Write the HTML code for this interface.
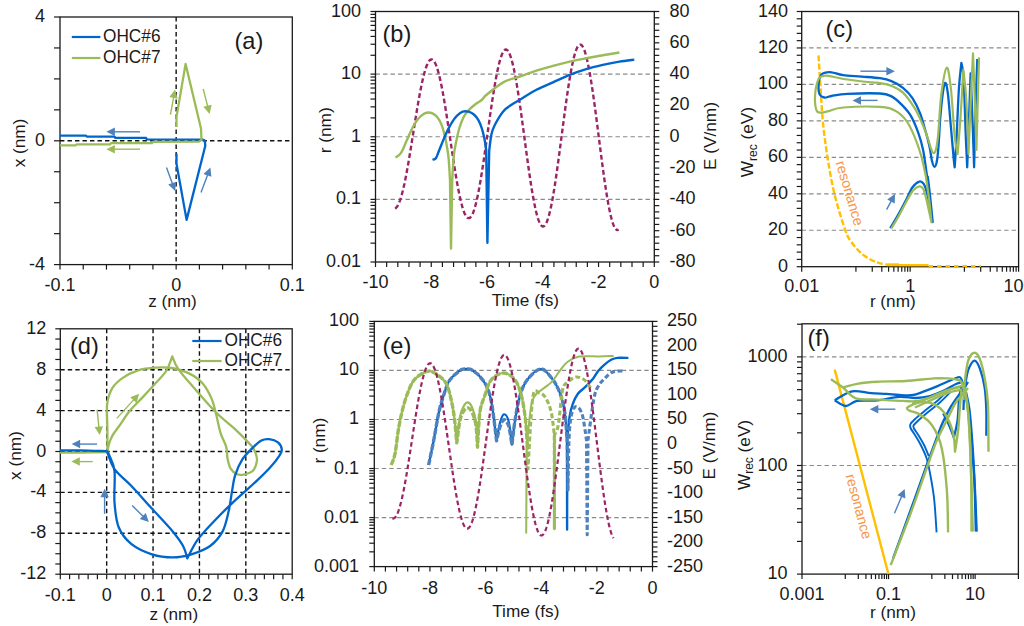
<!DOCTYPE html>
<html><head><meta charset="utf-8"><style>
html,body{margin:0;padding:0;background:#fff;width:1024px;height:626px;overflow:hidden}
svg{display:block;font-family:"Liberation Sans", sans-serif}
</style></head><body>
<svg width="1024" height="626" viewBox="0 0 1024 626">
<rect width="1024" height="626" fill="#fff"/>
<line x1="60" y1="140.8" x2="292.3" y2="140.8" stroke="#111" stroke-width="1.4" stroke-dasharray="4.4 3.1" stroke-linecap="butt"/>
<line x1="176.15" y1="17" x2="176.15" y2="264.6" stroke="#111" stroke-width="1.4" stroke-dasharray="4.4 3.1" stroke-linecap="butt"/>
<line x1="54" y1="264.6" x2="60" y2="264.6" stroke="#1a1a1a" stroke-width="1.2" stroke-linecap="butt"/>
<line x1="54" y1="233.65" x2="60" y2="233.65" stroke="#1a1a1a" stroke-width="1.2" stroke-linecap="butt"/>
<line x1="54" y1="202.7" x2="60" y2="202.7" stroke="#1a1a1a" stroke-width="1.2" stroke-linecap="butt"/>
<line x1="54" y1="171.75" x2="60" y2="171.75" stroke="#1a1a1a" stroke-width="1.2" stroke-linecap="butt"/>
<line x1="54" y1="140.8" x2="60" y2="140.8" stroke="#1a1a1a" stroke-width="1.2" stroke-linecap="butt"/>
<line x1="54" y1="109.85" x2="60" y2="109.85" stroke="#1a1a1a" stroke-width="1.2" stroke-linecap="butt"/>
<line x1="54" y1="78.9" x2="60" y2="78.9" stroke="#1a1a1a" stroke-width="1.2" stroke-linecap="butt"/>
<line x1="54" y1="47.95" x2="60" y2="47.95" stroke="#1a1a1a" stroke-width="1.2" stroke-linecap="butt"/>
<line x1="54" y1="17" x2="60" y2="17" stroke="#1a1a1a" stroke-width="1.2" stroke-linecap="butt"/>
<line x1="60" y1="264.6" x2="60" y2="269.6" stroke="#1a1a1a" stroke-width="1.2" stroke-linecap="butt"/>
<line x1="83.23" y1="264.6" x2="83.23" y2="269.6" stroke="#1a1a1a" stroke-width="1.2" stroke-linecap="butt"/>
<line x1="106.46" y1="264.6" x2="106.46" y2="269.6" stroke="#1a1a1a" stroke-width="1.2" stroke-linecap="butt"/>
<line x1="129.69" y1="264.6" x2="129.69" y2="269.6" stroke="#1a1a1a" stroke-width="1.2" stroke-linecap="butt"/>
<line x1="152.92" y1="264.6" x2="152.92" y2="269.6" stroke="#1a1a1a" stroke-width="1.2" stroke-linecap="butt"/>
<line x1="176.15" y1="264.6" x2="176.15" y2="269.6" stroke="#1a1a1a" stroke-width="1.2" stroke-linecap="butt"/>
<line x1="199.38" y1="264.6" x2="199.38" y2="269.6" stroke="#1a1a1a" stroke-width="1.2" stroke-linecap="butt"/>
<line x1="222.61" y1="264.6" x2="222.61" y2="269.6" stroke="#1a1a1a" stroke-width="1.2" stroke-linecap="butt"/>
<line x1="245.84" y1="264.6" x2="245.84" y2="269.6" stroke="#1a1a1a" stroke-width="1.2" stroke-linecap="butt"/>
<line x1="269.07" y1="264.6" x2="269.07" y2="269.6" stroke="#1a1a1a" stroke-width="1.2" stroke-linecap="butt"/>
<line x1="292.3" y1="264.6" x2="292.3" y2="269.6" stroke="#1a1a1a" stroke-width="1.2" stroke-linecap="butt"/>
<rect x="60" y="17" width="232.3" height="247.6" fill="none" stroke="#1a1a1a" stroke-width="1.3"/>
<text x="45" y="22" font-size="18" text-anchor="end" fill="#1a1a1a">4</text>
<text x="45" y="145.8" font-size="18" text-anchor="end" fill="#1a1a1a">0</text>
<text x="45" y="269.6" font-size="18" text-anchor="end" fill="#1a1a1a">-4</text>
<text x="60" y="291" font-size="18" text-anchor="middle" fill="#1a1a1a">-0.1</text>
<text x="176.15" y="291" font-size="18" text-anchor="middle" fill="#1a1a1a">0</text>
<text x="292.3" y="291" font-size="18" text-anchor="middle" fill="#1a1a1a">0.1</text>
<text x="172.5" y="306.5" font-size="17.2" text-anchor="middle" fill="#1a1a1a">z (nm)</text>
<text x="25" y="143" font-size="17.2" text-anchor="middle" fill="#1a1a1a" transform="rotate(-90 25 143)">x (nm)</text>
<line x1="71.8" y1="37" x2="100.4" y2="37" stroke="#0066cc" stroke-width="2.2" stroke-linecap="butt"/>
<line x1="71.8" y1="58" x2="100.4" y2="58" stroke="#9bbb59" stroke-width="2.2" stroke-linecap="butt"/>
<text x="103" y="42.4" font-size="18" text-anchor="start" fill="#1a1a1a" textLength="57.5" lengthAdjust="spacingAndGlyphs">OHC#6</text>
<text x="103" y="62.8" font-size="18" text-anchor="start" fill="#1a1a1a" textLength="57.5" lengthAdjust="spacingAndGlyphs">OHC#7</text>
<text x="234.5" y="48.5" font-size="23.6" text-anchor="start" fill="#1a1a1a">(a)</text>
<path d="M60,135.6 L86,135.6 L86.8,136.6 L114.5,136.6 L115.3,137.9 L146,137.9 L146.8,139.4 L203,139.7" fill="none" stroke="#0066cc" stroke-width="2.3" stroke-linejoin="round" stroke-linecap="butt"/>
<path d="M176.5,153.7 L176.5,163.8 L186.6,219.9 L205.3,145.8 C205.18,144.93 205.15,141.62 204.6,140.6 C204.05,139.58 202.43,139.85 202,139.7" fill="none" stroke="#0066cc" stroke-width="2.3" stroke-linejoin="round" stroke-linecap="butt"/>
<path d="M176.5,127 L176.5,116.9 L185.6,63.9 L201,128.4 L201.5,140 L199,141.6 L152.8,141.8 L152,143.2 L110.9,143.2 L110.1,144.4 L76.6,144.4 L75.8,145.4 L60,145.4" fill="none" stroke="#9bbb59" stroke-width="2.3" stroke-linejoin="round" stroke-linecap="butt"/>
<line x1="170.4" y1="114.7" x2="173.72" y2="96.87" stroke="#9bbb59" stroke-width="1.4" stroke-linecap="butt"/>
<polygon points="175.1,89.5 177.72,98.64 169.36,97.08" fill="#9bbb59"/>
<line x1="203.2" y1="88.8" x2="207.75" y2="106.73" stroke="#9bbb59" stroke-width="1.4" stroke-linecap="butt"/>
<polygon points="209.6,114 203.39,106.81 211.63,104.72" fill="#9bbb59"/>
<line x1="166.5" y1="167.4" x2="172.54" y2="184.05" stroke="#4f81bd" stroke-width="1.4" stroke-linecap="butt"/>
<polygon points="175.1,191.1 168.21,184.56 176.2,181.66" fill="#4f81bd"/>
<line x1="201" y1="192.6" x2="207.78" y2="174.43" stroke="#4f81bd" stroke-width="1.4" stroke-linecap="butt"/>
<polygon points="210.4,167.4 211.41,176.85 203.45,173.88" fill="#4f81bd"/>
<line x1="140" y1="131.8" x2="113.9" y2="131.8" stroke="#4f81bd" stroke-width="1.4" stroke-linecap="butt"/>
<polygon points="106.4,131.8 114.9,127.55 114.9,136.05" fill="#4f81bd"/>
<line x1="140" y1="149.2" x2="113.9" y2="149.2" stroke="#9bbb59" stroke-width="1.4" stroke-linecap="butt"/>
<polygon points="106.4,149.2 114.9,144.95 114.9,153.45" fill="#9bbb59"/>
<line x1="375.5" y1="74.12" x2="654.3" y2="74.12" stroke="#8a8a8a" stroke-width="1.2" stroke-dasharray="4.4 3.1" stroke-linecap="butt"/>
<line x1="375.5" y1="136.75" x2="654.3" y2="136.75" stroke="#8a8a8a" stroke-width="1.2" stroke-dasharray="4.4 3.1" stroke-linecap="butt"/>
<line x1="375.5" y1="199.38" x2="654.3" y2="199.38" stroke="#8a8a8a" stroke-width="1.2" stroke-dasharray="4.4 3.1" stroke-linecap="butt"/>
<line x1="370.5" y1="262" x2="375.5" y2="262" stroke="#1a1a1a" stroke-width="1.2" stroke-linecap="butt"/>
<line x1="370.5" y1="243.15" x2="375.5" y2="243.15" stroke="#1a1a1a" stroke-width="1.2" stroke-linecap="butt"/>
<line x1="370.5" y1="232.12" x2="375.5" y2="232.12" stroke="#1a1a1a" stroke-width="1.2" stroke-linecap="butt"/>
<line x1="370.5" y1="224.3" x2="375.5" y2="224.3" stroke="#1a1a1a" stroke-width="1.2" stroke-linecap="butt"/>
<line x1="370.5" y1="218.23" x2="375.5" y2="218.23" stroke="#1a1a1a" stroke-width="1.2" stroke-linecap="butt"/>
<line x1="370.5" y1="213.27" x2="375.5" y2="213.27" stroke="#1a1a1a" stroke-width="1.2" stroke-linecap="butt"/>
<line x1="370.5" y1="209.08" x2="375.5" y2="209.08" stroke="#1a1a1a" stroke-width="1.2" stroke-linecap="butt"/>
<line x1="370.5" y1="205.44" x2="375.5" y2="205.44" stroke="#1a1a1a" stroke-width="1.2" stroke-linecap="butt"/>
<line x1="370.5" y1="202.24" x2="375.5" y2="202.24" stroke="#1a1a1a" stroke-width="1.2" stroke-linecap="butt"/>
<line x1="370.5" y1="199.38" x2="375.5" y2="199.38" stroke="#1a1a1a" stroke-width="1.2" stroke-linecap="butt"/>
<line x1="370.5" y1="180.52" x2="375.5" y2="180.52" stroke="#1a1a1a" stroke-width="1.2" stroke-linecap="butt"/>
<line x1="370.5" y1="169.5" x2="375.5" y2="169.5" stroke="#1a1a1a" stroke-width="1.2" stroke-linecap="butt"/>
<line x1="370.5" y1="161.67" x2="375.5" y2="161.67" stroke="#1a1a1a" stroke-width="1.2" stroke-linecap="butt"/>
<line x1="370.5" y1="155.6" x2="375.5" y2="155.6" stroke="#1a1a1a" stroke-width="1.2" stroke-linecap="butt"/>
<line x1="370.5" y1="150.64" x2="375.5" y2="150.64" stroke="#1a1a1a" stroke-width="1.2" stroke-linecap="butt"/>
<line x1="370.5" y1="146.45" x2="375.5" y2="146.45" stroke="#1a1a1a" stroke-width="1.2" stroke-linecap="butt"/>
<line x1="370.5" y1="142.82" x2="375.5" y2="142.82" stroke="#1a1a1a" stroke-width="1.2" stroke-linecap="butt"/>
<line x1="370.5" y1="139.62" x2="375.5" y2="139.62" stroke="#1a1a1a" stroke-width="1.2" stroke-linecap="butt"/>
<line x1="370.5" y1="136.75" x2="375.5" y2="136.75" stroke="#1a1a1a" stroke-width="1.2" stroke-linecap="butt"/>
<line x1="370.5" y1="117.9" x2="375.5" y2="117.9" stroke="#1a1a1a" stroke-width="1.2" stroke-linecap="butt"/>
<line x1="370.5" y1="106.87" x2="375.5" y2="106.87" stroke="#1a1a1a" stroke-width="1.2" stroke-linecap="butt"/>
<line x1="370.5" y1="99.05" x2="375.5" y2="99.05" stroke="#1a1a1a" stroke-width="1.2" stroke-linecap="butt"/>
<line x1="370.5" y1="92.98" x2="375.5" y2="92.98" stroke="#1a1a1a" stroke-width="1.2" stroke-linecap="butt"/>
<line x1="370.5" y1="88.02" x2="375.5" y2="88.02" stroke="#1a1a1a" stroke-width="1.2" stroke-linecap="butt"/>
<line x1="370.5" y1="83.83" x2="375.5" y2="83.83" stroke="#1a1a1a" stroke-width="1.2" stroke-linecap="butt"/>
<line x1="370.5" y1="80.19" x2="375.5" y2="80.19" stroke="#1a1a1a" stroke-width="1.2" stroke-linecap="butt"/>
<line x1="370.5" y1="76.99" x2="375.5" y2="76.99" stroke="#1a1a1a" stroke-width="1.2" stroke-linecap="butt"/>
<line x1="370.5" y1="74.12" x2="375.5" y2="74.12" stroke="#1a1a1a" stroke-width="1.2" stroke-linecap="butt"/>
<line x1="370.5" y1="55.27" x2="375.5" y2="55.27" stroke="#1a1a1a" stroke-width="1.2" stroke-linecap="butt"/>
<line x1="370.5" y1="44.25" x2="375.5" y2="44.25" stroke="#1a1a1a" stroke-width="1.2" stroke-linecap="butt"/>
<line x1="370.5" y1="36.42" x2="375.5" y2="36.42" stroke="#1a1a1a" stroke-width="1.2" stroke-linecap="butt"/>
<line x1="370.5" y1="30.35" x2="375.5" y2="30.35" stroke="#1a1a1a" stroke-width="1.2" stroke-linecap="butt"/>
<line x1="370.5" y1="25.39" x2="375.5" y2="25.39" stroke="#1a1a1a" stroke-width="1.2" stroke-linecap="butt"/>
<line x1="370.5" y1="21.2" x2="375.5" y2="21.2" stroke="#1a1a1a" stroke-width="1.2" stroke-linecap="butt"/>
<line x1="370.5" y1="17.57" x2="375.5" y2="17.57" stroke="#1a1a1a" stroke-width="1.2" stroke-linecap="butt"/>
<line x1="370.5" y1="14.37" x2="375.5" y2="14.37" stroke="#1a1a1a" stroke-width="1.2" stroke-linecap="butt"/>
<line x1="370.5" y1="11.5" x2="375.5" y2="11.5" stroke="#1a1a1a" stroke-width="1.2" stroke-linecap="butt"/>
<line x1="654.3" y1="262" x2="659.3" y2="262" stroke="#1a1a1a" stroke-width="1.2" stroke-linecap="butt"/>
<line x1="654.3" y1="255.74" x2="659.3" y2="255.74" stroke="#1a1a1a" stroke-width="1.2" stroke-linecap="butt"/>
<line x1="654.3" y1="249.48" x2="659.3" y2="249.48" stroke="#1a1a1a" stroke-width="1.2" stroke-linecap="butt"/>
<line x1="654.3" y1="243.21" x2="659.3" y2="243.21" stroke="#1a1a1a" stroke-width="1.2" stroke-linecap="butt"/>
<line x1="654.3" y1="236.95" x2="659.3" y2="236.95" stroke="#1a1a1a" stroke-width="1.2" stroke-linecap="butt"/>
<line x1="654.3" y1="230.69" x2="659.3" y2="230.69" stroke="#1a1a1a" stroke-width="1.2" stroke-linecap="butt"/>
<line x1="654.3" y1="224.43" x2="659.3" y2="224.43" stroke="#1a1a1a" stroke-width="1.2" stroke-linecap="butt"/>
<line x1="654.3" y1="218.16" x2="659.3" y2="218.16" stroke="#1a1a1a" stroke-width="1.2" stroke-linecap="butt"/>
<line x1="654.3" y1="211.9" x2="659.3" y2="211.9" stroke="#1a1a1a" stroke-width="1.2" stroke-linecap="butt"/>
<line x1="654.3" y1="205.64" x2="659.3" y2="205.64" stroke="#1a1a1a" stroke-width="1.2" stroke-linecap="butt"/>
<line x1="654.3" y1="199.38" x2="659.3" y2="199.38" stroke="#1a1a1a" stroke-width="1.2" stroke-linecap="butt"/>
<line x1="654.3" y1="193.11" x2="659.3" y2="193.11" stroke="#1a1a1a" stroke-width="1.2" stroke-linecap="butt"/>
<line x1="654.3" y1="186.85" x2="659.3" y2="186.85" stroke="#1a1a1a" stroke-width="1.2" stroke-linecap="butt"/>
<line x1="654.3" y1="180.59" x2="659.3" y2="180.59" stroke="#1a1a1a" stroke-width="1.2" stroke-linecap="butt"/>
<line x1="654.3" y1="174.32" x2="659.3" y2="174.32" stroke="#1a1a1a" stroke-width="1.2" stroke-linecap="butt"/>
<line x1="654.3" y1="168.06" x2="659.3" y2="168.06" stroke="#1a1a1a" stroke-width="1.2" stroke-linecap="butt"/>
<line x1="654.3" y1="161.8" x2="659.3" y2="161.8" stroke="#1a1a1a" stroke-width="1.2" stroke-linecap="butt"/>
<line x1="654.3" y1="155.54" x2="659.3" y2="155.54" stroke="#1a1a1a" stroke-width="1.2" stroke-linecap="butt"/>
<line x1="654.3" y1="149.28" x2="659.3" y2="149.28" stroke="#1a1a1a" stroke-width="1.2" stroke-linecap="butt"/>
<line x1="654.3" y1="143.01" x2="659.3" y2="143.01" stroke="#1a1a1a" stroke-width="1.2" stroke-linecap="butt"/>
<line x1="654.3" y1="136.75" x2="659.3" y2="136.75" stroke="#1a1a1a" stroke-width="1.2" stroke-linecap="butt"/>
<line x1="654.3" y1="130.49" x2="659.3" y2="130.49" stroke="#1a1a1a" stroke-width="1.2" stroke-linecap="butt"/>
<line x1="654.3" y1="124.22" x2="659.3" y2="124.22" stroke="#1a1a1a" stroke-width="1.2" stroke-linecap="butt"/>
<line x1="654.3" y1="117.96" x2="659.3" y2="117.96" stroke="#1a1a1a" stroke-width="1.2" stroke-linecap="butt"/>
<line x1="654.3" y1="111.7" x2="659.3" y2="111.7" stroke="#1a1a1a" stroke-width="1.2" stroke-linecap="butt"/>
<line x1="654.3" y1="105.44" x2="659.3" y2="105.44" stroke="#1a1a1a" stroke-width="1.2" stroke-linecap="butt"/>
<line x1="654.3" y1="99.18" x2="659.3" y2="99.18" stroke="#1a1a1a" stroke-width="1.2" stroke-linecap="butt"/>
<line x1="654.3" y1="92.91" x2="659.3" y2="92.91" stroke="#1a1a1a" stroke-width="1.2" stroke-linecap="butt"/>
<line x1="654.3" y1="86.65" x2="659.3" y2="86.65" stroke="#1a1a1a" stroke-width="1.2" stroke-linecap="butt"/>
<line x1="654.3" y1="80.39" x2="659.3" y2="80.39" stroke="#1a1a1a" stroke-width="1.2" stroke-linecap="butt"/>
<line x1="654.3" y1="74.12" x2="659.3" y2="74.12" stroke="#1a1a1a" stroke-width="1.2" stroke-linecap="butt"/>
<line x1="654.3" y1="67.86" x2="659.3" y2="67.86" stroke="#1a1a1a" stroke-width="1.2" stroke-linecap="butt"/>
<line x1="654.3" y1="61.6" x2="659.3" y2="61.6" stroke="#1a1a1a" stroke-width="1.2" stroke-linecap="butt"/>
<line x1="654.3" y1="55.34" x2="659.3" y2="55.34" stroke="#1a1a1a" stroke-width="1.2" stroke-linecap="butt"/>
<line x1="654.3" y1="49.08" x2="659.3" y2="49.08" stroke="#1a1a1a" stroke-width="1.2" stroke-linecap="butt"/>
<line x1="654.3" y1="42.81" x2="659.3" y2="42.81" stroke="#1a1a1a" stroke-width="1.2" stroke-linecap="butt"/>
<line x1="654.3" y1="36.55" x2="659.3" y2="36.55" stroke="#1a1a1a" stroke-width="1.2" stroke-linecap="butt"/>
<line x1="654.3" y1="30.29" x2="659.3" y2="30.29" stroke="#1a1a1a" stroke-width="1.2" stroke-linecap="butt"/>
<line x1="654.3" y1="24.02" x2="659.3" y2="24.02" stroke="#1a1a1a" stroke-width="1.2" stroke-linecap="butt"/>
<line x1="654.3" y1="17.76" x2="659.3" y2="17.76" stroke="#1a1a1a" stroke-width="1.2" stroke-linecap="butt"/>
<line x1="654.3" y1="11.5" x2="659.3" y2="11.5" stroke="#1a1a1a" stroke-width="1.2" stroke-linecap="butt"/>
<line x1="375.5" y1="262" x2="375.5" y2="267" stroke="#1a1a1a" stroke-width="1.2" stroke-linecap="butt"/>
<line x1="386.65" y1="262" x2="386.65" y2="267" stroke="#1a1a1a" stroke-width="1.2" stroke-linecap="butt"/>
<line x1="397.8" y1="262" x2="397.8" y2="267" stroke="#1a1a1a" stroke-width="1.2" stroke-linecap="butt"/>
<line x1="408.96" y1="262" x2="408.96" y2="267" stroke="#1a1a1a" stroke-width="1.2" stroke-linecap="butt"/>
<line x1="420.11" y1="262" x2="420.11" y2="267" stroke="#1a1a1a" stroke-width="1.2" stroke-linecap="butt"/>
<line x1="431.26" y1="262" x2="431.26" y2="267" stroke="#1a1a1a" stroke-width="1.2" stroke-linecap="butt"/>
<line x1="442.41" y1="262" x2="442.41" y2="267" stroke="#1a1a1a" stroke-width="1.2" stroke-linecap="butt"/>
<line x1="453.56" y1="262" x2="453.56" y2="267" stroke="#1a1a1a" stroke-width="1.2" stroke-linecap="butt"/>
<line x1="464.72" y1="262" x2="464.72" y2="267" stroke="#1a1a1a" stroke-width="1.2" stroke-linecap="butt"/>
<line x1="475.87" y1="262" x2="475.87" y2="267" stroke="#1a1a1a" stroke-width="1.2" stroke-linecap="butt"/>
<line x1="487.02" y1="262" x2="487.02" y2="267" stroke="#1a1a1a" stroke-width="1.2" stroke-linecap="butt"/>
<line x1="498.17" y1="262" x2="498.17" y2="267" stroke="#1a1a1a" stroke-width="1.2" stroke-linecap="butt"/>
<line x1="509.32" y1="262" x2="509.32" y2="267" stroke="#1a1a1a" stroke-width="1.2" stroke-linecap="butt"/>
<line x1="520.48" y1="262" x2="520.48" y2="267" stroke="#1a1a1a" stroke-width="1.2" stroke-linecap="butt"/>
<line x1="531.63" y1="262" x2="531.63" y2="267" stroke="#1a1a1a" stroke-width="1.2" stroke-linecap="butt"/>
<line x1="542.78" y1="262" x2="542.78" y2="267" stroke="#1a1a1a" stroke-width="1.2" stroke-linecap="butt"/>
<line x1="553.93" y1="262" x2="553.93" y2="267" stroke="#1a1a1a" stroke-width="1.2" stroke-linecap="butt"/>
<line x1="565.08" y1="262" x2="565.08" y2="267" stroke="#1a1a1a" stroke-width="1.2" stroke-linecap="butt"/>
<line x1="576.24" y1="262" x2="576.24" y2="267" stroke="#1a1a1a" stroke-width="1.2" stroke-linecap="butt"/>
<line x1="587.39" y1="262" x2="587.39" y2="267" stroke="#1a1a1a" stroke-width="1.2" stroke-linecap="butt"/>
<line x1="598.54" y1="262" x2="598.54" y2="267" stroke="#1a1a1a" stroke-width="1.2" stroke-linecap="butt"/>
<line x1="609.69" y1="262" x2="609.69" y2="267" stroke="#1a1a1a" stroke-width="1.2" stroke-linecap="butt"/>
<line x1="620.84" y1="262" x2="620.84" y2="267" stroke="#1a1a1a" stroke-width="1.2" stroke-linecap="butt"/>
<line x1="632" y1="262" x2="632" y2="267" stroke="#1a1a1a" stroke-width="1.2" stroke-linecap="butt"/>
<line x1="643.15" y1="262" x2="643.15" y2="267" stroke="#1a1a1a" stroke-width="1.2" stroke-linecap="butt"/>
<line x1="654.3" y1="262" x2="654.3" y2="267" stroke="#1a1a1a" stroke-width="1.2" stroke-linecap="butt"/>
<rect x="375.5" y="11.5" width="278.8" height="250.5" fill="none" stroke="#1a1a1a" stroke-width="1.3"/>
<text x="361" y="16.5" font-size="18" text-anchor="end" fill="#1a1a1a">100</text>
<text x="361" y="79.12" font-size="18" text-anchor="end" fill="#1a1a1a">10</text>
<text x="361" y="141.75" font-size="18" text-anchor="end" fill="#1a1a1a">1</text>
<text x="361" y="204.38" font-size="18" text-anchor="end" fill="#1a1a1a">0.1</text>
<text x="361" y="267" font-size="18" text-anchor="end" fill="#1a1a1a">0.01</text>
<text x="669.5" y="267" font-size="18" text-anchor="start" fill="#1a1a1a">-80</text>
<text x="669.5" y="235.69" font-size="18" text-anchor="start" fill="#1a1a1a">-60</text>
<text x="669.5" y="204.38" font-size="18" text-anchor="start" fill="#1a1a1a">-40</text>
<text x="669.5" y="173.06" font-size="18" text-anchor="start" fill="#1a1a1a">-20</text>
<text x="669.5" y="141.75" font-size="18" text-anchor="start" fill="#1a1a1a">0</text>
<text x="669.5" y="110.44" font-size="18" text-anchor="start" fill="#1a1a1a">20</text>
<text x="669.5" y="79.12" font-size="18" text-anchor="start" fill="#1a1a1a">40</text>
<text x="669.5" y="47.81" font-size="18" text-anchor="start" fill="#1a1a1a">60</text>
<text x="669.5" y="16.5" font-size="18" text-anchor="start" fill="#1a1a1a">80</text>
<text x="375.5" y="287.5" font-size="18" text-anchor="middle" fill="#1a1a1a">-10</text>
<text x="431.26" y="287.5" font-size="18" text-anchor="middle" fill="#1a1a1a">-8</text>
<text x="487.02" y="287.5" font-size="18" text-anchor="middle" fill="#1a1a1a">-6</text>
<text x="542.78" y="287.5" font-size="18" text-anchor="middle" fill="#1a1a1a">-4</text>
<text x="598.54" y="287.5" font-size="18" text-anchor="middle" fill="#1a1a1a">-2</text>
<text x="654.3" y="287.5" font-size="18" text-anchor="middle" fill="#1a1a1a">0</text>
<text x="525.4" y="306.3" font-size="17.2" text-anchor="middle" fill="#1a1a1a">Time (fs)</text>
<text x="331" y="130.3" font-size="17.2" text-anchor="middle" fill="#1a1a1a" transform="rotate(-90 331 130.3)">r (nm)</text>
<text x="715.5" y="136" font-size="17.2" text-anchor="middle" fill="#1a1a1a" transform="rotate(-90 715.5 136)">E (V/nm)</text>
<text x="382.5" y="41.5" font-size="23.6" text-anchor="start" fill="#1a1a1a">(b)</text>
<path d="M395.02,208.52 L395.58,208.21 L396.14,207.77 L396.7,207.17 L397.26,206.41 L397.82,205.49 L398.38,204.42 L398.94,203.19 L399.5,201.82 L400.06,200.29 L400.62,198.61 L401.18,196.8 L401.74,194.84 L402.3,192.75 L402.86,190.53 L403.42,188.19 L403.98,185.72 L404.54,183.14 L405.1,180.45 L405.66,177.65 L406.22,174.76 L406.78,171.78 L407.34,168.71 L407.91,165.56 L408.47,162.34 L409.03,159.05 L409.59,155.71 L410.15,152.32 L410.71,148.88 L411.27,145.41 L411.83,141.91 L412.39,138.4 L412.95,134.87 L413.51,131.34 L414.07,127.81 L414.63,124.3 L415.19,120.8 L415.75,117.33 L416.31,113.9 L416.87,110.51 L417.43,107.18 L417.99,103.9 L418.55,100.69 L419.11,97.55 L419.67,94.5 L420.23,91.53 L420.79,88.66 L421.35,85.88 L421.91,83.22 L422.48,80.67 L423.04,78.24 L423.6,75.94 L424.16,73.77 L424.72,71.73 L425.28,69.84 L425.84,68.09 L426.4,66.49 L426.96,65.05 L427.52,63.76 L428.08,62.63 L428.64,61.67 L429.2,60.87 L429.76,60.25 L430.32,59.79 L430.88,59.5 L431.44,59.4 L432,59.48 L432.56,59.73 L433.12,60.16 L433.68,60.76 L434.24,61.53 L434.8,62.47 L435.36,63.58 L435.92,64.86 L436.49,66.29 L437.05,67.89 L437.61,69.65 L438.17,71.55 L438.73,73.61 L439.29,75.81 L439.85,78.15 L440.41,80.63 L440.97,83.23 L441.53,85.96 L442.09,88.81 L442.65,91.77 L443.21,94.83 L443.77,98 L444.33,101.25 L444.89,104.59 L445.45,108.01 L446.01,111.49 L446.57,115.04 L447.13,118.64 L447.69,122.29 L448.25,125.98 L448.81,129.7 L449.37,133.43 L449.93,137.18 L450.5,140.94 L451.06,144.69 L451.62,148.43 L452.18,152.15 L452.74,155.84 L453.3,159.5 L453.86,163.11 L454.42,166.66 L454.98,170.15 L455.54,173.58 L456.1,176.93 L456.66,180.19 L457.22,183.36 L457.78,186.43 L458.34,189.39 L458.9,192.24 L459.46,194.97 L460.02,197.57 L460.58,200.05 L461.14,202.38 L461.7,204.57 L462.26,206.61 L462.82,208.5 L463.38,210.23 L463.94,211.8 L464.5,213.2 L465.07,214.43 L465.63,215.49 L466.19,216.38 L466.75,217.09 L467.31,217.62 L467.87,217.97 L468.43,218.14 L468.99,218.15 L469.55,217.98 L470.11,217.63 L470.67,217.1 L471.23,216.38 L471.79,215.49 L472.35,214.42 L472.91,213.17 L473.47,211.75 L474.03,210.15 L474.59,208.39 L475.15,206.46 L475.71,204.38 L476.27,202.13 L476.83,199.74 L477.39,197.2 L477.95,194.52 L478.51,191.7 L479.08,188.76 L479.64,185.69 L480.2,182.5 L480.76,179.21 L481.32,175.81 L481.88,172.32 L482.44,168.74 L483,165.08 L483.56,161.35 L484.12,157.56 L484.68,153.72 L485.24,149.82 L485.8,145.89 L486.36,141.93 L486.92,137.95 L487.48,133.96 L488.04,129.97 L488.6,125.98 L489.16,122.01 L489.72,118.07 L490.28,114.16 L490.84,110.29 L491.4,106.47 L491.96,102.71 L492.52,99.02 L493.09,95.41 L493.65,91.88 L494.21,88.44 L494.77,85.11 L495.33,81.89 L495.89,78.78 L496.45,75.79 L497.01,72.94 L497.57,70.22 L498.13,67.65 L498.69,65.22 L499.25,62.95 L499.81,60.84 L500.37,58.9 L500.93,57.13 L501.49,55.53 L502.05,54.11 L502.61,52.88 L503.17,51.83 L503.73,50.96 L504.29,50.29 L504.85,49.81 L505.41,49.55 L505.97,49.51 L506.53,49.67 L507.09,50.02 L507.66,50.57 L508.22,51.3 L508.78,52.23 L509.34,53.36 L509.9,54.66 L510.46,56.16 L511.02,57.83 L511.58,59.68 L512.14,61.71 L512.7,63.91 L513.26,66.27 L513.82,68.79 L514.38,71.47 L514.94,74.29 L515.5,77.26 L516.06,80.36 L516.62,83.59 L517.18,86.94 L517.74,90.41 L518.3,93.98 L518.86,97.65 L519.42,101.42 L519.98,105.26 L520.54,109.18 L521.1,113.16 L521.67,117.2 L522.23,121.29 L522.79,125.42 L523.35,129.57 L523.91,133.74 L524.47,137.93 L525.03,142.11 L525.59,146.29 L526.15,150.45 L526.71,154.58 L527.27,158.67 L527.83,162.72 L528.39,166.72 L528.95,170.65 L529.51,174.51 L530.07,178.28 L530.63,181.97 L531.19,185.56 L531.75,189.04 L532.31,192.41 L532.87,195.66 L533.43,198.78 L533.99,201.76 L534.55,204.6 L535.11,207.29 L535.68,209.82 L536.24,212.19 L536.8,214.4 L537.36,216.43 L537.92,218.29 L538.48,219.96 L539.04,221.45 L539.6,222.75 L540.16,223.87 L540.72,224.78 L541.28,225.5 L541.84,226.03 L542.4,226.35 L542.96,226.47 L543.52,226.39 L544.08,226.12 L544.64,225.64 L545.2,224.96 L545.76,224.08 L546.32,223.01 L546.88,221.74 L547.44,220.29 L548,218.64 L548.56,216.81 L549.12,214.8 L549.69,212.61 L550.25,210.25 L550.81,207.73 L551.37,205.04 L551.93,202.2 L552.49,199.21 L553.05,196.08 L553.61,192.81 L554.17,189.41 L554.73,185.9 L555.29,182.27 L555.85,178.53 L556.41,174.7 L556.97,170.78 L557.53,166.78 L558.09,162.71 L558.65,158.58 L559.21,154.4 L559.77,150.17 L560.33,145.91 L560.89,141.63 L561.45,137.33 L562.01,133.03 L562.57,128.73 L563.13,124.45 L563.69,120.19 L564.26,115.96 L564.82,111.78 L565.38,107.65 L565.94,103.58 L566.5,99.58 L567.06,95.67 L567.62,91.84 L568.18,88.11 L568.74,84.48 L569.3,80.97 L569.86,77.58 L570.42,74.32 L570.98,71.2 L571.54,68.22 L572.1,65.39 L572.66,62.72 L573.22,60.21 L573.78,57.87 L574.34,55.71 L574.9,53.73 L575.46,51.93 L576.02,50.32 L576.58,48.9 L577.14,47.68 L577.7,46.65 L578.27,45.83 L578.83,45.21 L579.39,44.79 L579.95,44.58 L580.51,44.58 L581.07,44.8 L581.63,45.23 L582.19,45.86 L582.75,46.7 L583.31,47.74 L583.87,48.97 L584.43,50.41 L584.99,52.04 L585.55,53.85 L586.11,55.86 L586.67,58.05 L587.23,60.41 L587.79,62.94 L588.35,65.64 L588.91,68.51 L589.47,71.52 L590.03,74.68 L590.59,77.98 L591.15,81.42 L591.71,84.98 L592.28,88.65 L592.84,92.44 L593.4,96.32 L593.96,100.3 L594.52,104.36 L595.08,108.5 L595.64,112.69 L596.2,116.95 L596.76,121.25 L597.32,125.58 L597.88,129.95 L598.44,134.33 L599,138.71 L599.56,143.1 L600.12,147.47 L600.68,151.81 L601.24,156.13 L601.8,160.4 L602.36,164.63 L602.92,168.79 L603.48,172.88 L604.04,176.89 L604.6,180.82 L605.16,184.64 L605.72,188.36 L606.28,191.97 L606.85,195.45 L607.41,198.81 L607.97,202.02 L608.53,205.1 L609.09,208.02 L609.65,210.78 L610.21,213.37 L610.77,215.8 L611.33,218.05 L611.89,220.12 L612.45,222 L613.01,223.69 L613.57,225.19 L614.13,226.49 L614.69,227.6 L615.25,228.49 L615.81,229.19 L616.37,229.67 L616.93,229.95 L617.49,230.02 L618.05,229.89 L618.61,229.54" fill="none" stroke="#9b2464" stroke-width="2.4" stroke-linejoin="round" stroke-linecap="butt" stroke-dasharray="4.8 2.8"/>
<path d="M395.6,157.6 C396.53,156.77 399.33,155.48 401.2,152.6 C403.07,149.72 404.93,144.4 406.8,140.3 C408.67,136.2 410.53,131.55 412.4,128 C414.27,124.45 416.13,121.33 418,119 C419.87,116.67 421.93,115.08 423.6,114 C425.27,112.92 426.52,112.6 428,112.5 C429.48,112.4 431,112.68 432.5,113.4 C434,114.12 435.5,114.93 437,116.8 C438.5,118.67 440.2,121.43 441.5,124.6 C442.8,127.77 443.88,132.07 444.8,135.8 C445.72,139.53 446.35,143.08 447,147 C447.65,150.92 448.2,153.8 448.7,159.3 C449.2,164.8 449.78,176.55 450,180 L451,248.5 L452.2,180 C452.47,175.98 453.17,162.15 453.8,155.9 C454.43,149.65 455.07,147.15 456,142.5 C456.93,137.85 458.1,132.28 459.4,128 C460.7,123.72 462.32,119.7 463.8,116.8 C465.28,113.9 466.43,112.65 468.3,110.6 C470.17,108.55 472.77,106.27 475,104.5 C477.23,102.73 479.77,101.62 481.7,100 C483.63,98.38 483.02,97.73 486.6,94.8 C490.18,91.87 497.67,85.45 503.2,82.4 C508.73,79.35 514.27,78.45 519.8,76.5 C525.33,74.55 530.87,72.48 536.4,70.7 C541.93,68.92 547.47,67.32 553,65.8 C558.53,64.28 564.07,62.85 569.6,61.6 C575.13,60.35 580.67,59.35 586.2,58.3 C591.73,57.25 597.27,56.27 602.8,55.3 C608.33,54.33 616.63,52.97 619.4,52.5" fill="none" stroke="#9bbb59" stroke-width="2.4" stroke-linejoin="round" stroke-linecap="butt"/>
<path d="M432.5,159.8 C433.07,159.53 434.78,159.78 435.9,158.2 C437.02,156.62 437.9,153.48 439.2,150.3 C440.5,147.12 442.2,142.63 443.7,139.1 C445.2,135.57 446.72,132.07 448.2,129.1 C449.68,126.13 451.12,123.53 452.6,121.3 C454.08,119.07 455.42,117.3 457.1,115.7 C458.78,114.1 460.83,112.37 462.7,111.7 C464.57,111.03 466.43,111.23 468.3,111.7 C470.17,112.17 472.22,113.1 473.9,114.5 C475.58,115.9 477.1,117.85 478.4,120.1 C479.7,122.35 480.68,124.83 481.7,128 C482.72,131.17 483.75,135.38 484.5,139.1 C485.25,142.82 485.92,148.43 486.2,150.3 L487.4,242.8 L489.2,150.6 C489.58,147.83 490.55,138.32 491.5,134 C492.45,129.68 492.95,128.47 494.9,124.7 C496.85,120.93 500.43,114.72 503.2,111.4 C505.97,108.08 508.73,106.73 511.5,104.8 C514.27,102.87 515.65,102.3 519.8,99.8 C523.95,97.3 530.87,92.7 536.4,89.8 C541.93,86.9 547.47,84.88 553,82.4 C558.53,79.92 564.07,77.12 569.6,74.9 C575.13,72.68 580.67,70.77 586.2,69.1 C591.73,67.43 597.27,66.15 602.8,64.9 C608.33,63.65 614.15,62.48 619.4,61.6 C624.65,60.72 631.82,59.93 634.3,59.6" fill="none" stroke="#0066cc" stroke-width="2.4" stroke-linejoin="round" stroke-linecap="butt"/>
<line x1="801.7" y1="230.24" x2="1018.6" y2="230.24" stroke="#8a8a8a" stroke-width="1.2" stroke-dasharray="4.4 3.1" stroke-linecap="butt"/>
<line x1="801.7" y1="193.79" x2="1018.6" y2="193.79" stroke="#8a8a8a" stroke-width="1.2" stroke-dasharray="4.4 3.1" stroke-linecap="butt"/>
<line x1="801.7" y1="157.33" x2="1018.6" y2="157.33" stroke="#8a8a8a" stroke-width="1.2" stroke-dasharray="4.4 3.1" stroke-linecap="butt"/>
<line x1="801.7" y1="120.87" x2="1018.6" y2="120.87" stroke="#8a8a8a" stroke-width="1.2" stroke-dasharray="4.4 3.1" stroke-linecap="butt"/>
<line x1="801.7" y1="84.41" x2="1018.6" y2="84.41" stroke="#8a8a8a" stroke-width="1.2" stroke-dasharray="4.4 3.1" stroke-linecap="butt"/>
<line x1="801.7" y1="47.96" x2="1018.6" y2="47.96" stroke="#8a8a8a" stroke-width="1.2" stroke-dasharray="4.4 3.1" stroke-linecap="butt"/>
<line x1="796.7" y1="266.7" x2="801.7" y2="266.7" stroke="#1a1a1a" stroke-width="1.2" stroke-linecap="butt"/>
<line x1="796.7" y1="259.41" x2="801.7" y2="259.41" stroke="#1a1a1a" stroke-width="1.2" stroke-linecap="butt"/>
<line x1="796.7" y1="252.12" x2="801.7" y2="252.12" stroke="#1a1a1a" stroke-width="1.2" stroke-linecap="butt"/>
<line x1="796.7" y1="244.83" x2="801.7" y2="244.83" stroke="#1a1a1a" stroke-width="1.2" stroke-linecap="butt"/>
<line x1="796.7" y1="237.53" x2="801.7" y2="237.53" stroke="#1a1a1a" stroke-width="1.2" stroke-linecap="butt"/>
<line x1="796.7" y1="230.24" x2="801.7" y2="230.24" stroke="#1a1a1a" stroke-width="1.2" stroke-linecap="butt"/>
<line x1="796.7" y1="222.95" x2="801.7" y2="222.95" stroke="#1a1a1a" stroke-width="1.2" stroke-linecap="butt"/>
<line x1="796.7" y1="215.66" x2="801.7" y2="215.66" stroke="#1a1a1a" stroke-width="1.2" stroke-linecap="butt"/>
<line x1="796.7" y1="208.37" x2="801.7" y2="208.37" stroke="#1a1a1a" stroke-width="1.2" stroke-linecap="butt"/>
<line x1="796.7" y1="201.08" x2="801.7" y2="201.08" stroke="#1a1a1a" stroke-width="1.2" stroke-linecap="butt"/>
<line x1="796.7" y1="193.79" x2="801.7" y2="193.79" stroke="#1a1a1a" stroke-width="1.2" stroke-linecap="butt"/>
<line x1="796.7" y1="186.49" x2="801.7" y2="186.49" stroke="#1a1a1a" stroke-width="1.2" stroke-linecap="butt"/>
<line x1="796.7" y1="179.2" x2="801.7" y2="179.2" stroke="#1a1a1a" stroke-width="1.2" stroke-linecap="butt"/>
<line x1="796.7" y1="171.91" x2="801.7" y2="171.91" stroke="#1a1a1a" stroke-width="1.2" stroke-linecap="butt"/>
<line x1="796.7" y1="164.62" x2="801.7" y2="164.62" stroke="#1a1a1a" stroke-width="1.2" stroke-linecap="butt"/>
<line x1="796.7" y1="157.33" x2="801.7" y2="157.33" stroke="#1a1a1a" stroke-width="1.2" stroke-linecap="butt"/>
<line x1="796.7" y1="150.04" x2="801.7" y2="150.04" stroke="#1a1a1a" stroke-width="1.2" stroke-linecap="butt"/>
<line x1="796.7" y1="142.75" x2="801.7" y2="142.75" stroke="#1a1a1a" stroke-width="1.2" stroke-linecap="butt"/>
<line x1="796.7" y1="135.45" x2="801.7" y2="135.45" stroke="#1a1a1a" stroke-width="1.2" stroke-linecap="butt"/>
<line x1="796.7" y1="128.16" x2="801.7" y2="128.16" stroke="#1a1a1a" stroke-width="1.2" stroke-linecap="butt"/>
<line x1="796.7" y1="120.87" x2="801.7" y2="120.87" stroke="#1a1a1a" stroke-width="1.2" stroke-linecap="butt"/>
<line x1="796.7" y1="113.58" x2="801.7" y2="113.58" stroke="#1a1a1a" stroke-width="1.2" stroke-linecap="butt"/>
<line x1="796.7" y1="106.29" x2="801.7" y2="106.29" stroke="#1a1a1a" stroke-width="1.2" stroke-linecap="butt"/>
<line x1="796.7" y1="99" x2="801.7" y2="99" stroke="#1a1a1a" stroke-width="1.2" stroke-linecap="butt"/>
<line x1="796.7" y1="91.71" x2="801.7" y2="91.71" stroke="#1a1a1a" stroke-width="1.2" stroke-linecap="butt"/>
<line x1="796.7" y1="84.41" x2="801.7" y2="84.41" stroke="#1a1a1a" stroke-width="1.2" stroke-linecap="butt"/>
<line x1="796.7" y1="77.12" x2="801.7" y2="77.12" stroke="#1a1a1a" stroke-width="1.2" stroke-linecap="butt"/>
<line x1="796.7" y1="69.83" x2="801.7" y2="69.83" stroke="#1a1a1a" stroke-width="1.2" stroke-linecap="butt"/>
<line x1="796.7" y1="62.54" x2="801.7" y2="62.54" stroke="#1a1a1a" stroke-width="1.2" stroke-linecap="butt"/>
<line x1="796.7" y1="55.25" x2="801.7" y2="55.25" stroke="#1a1a1a" stroke-width="1.2" stroke-linecap="butt"/>
<line x1="796.7" y1="47.96" x2="801.7" y2="47.96" stroke="#1a1a1a" stroke-width="1.2" stroke-linecap="butt"/>
<line x1="796.7" y1="40.67" x2="801.7" y2="40.67" stroke="#1a1a1a" stroke-width="1.2" stroke-linecap="butt"/>
<line x1="796.7" y1="33.37" x2="801.7" y2="33.37" stroke="#1a1a1a" stroke-width="1.2" stroke-linecap="butt"/>
<line x1="796.7" y1="26.08" x2="801.7" y2="26.08" stroke="#1a1a1a" stroke-width="1.2" stroke-linecap="butt"/>
<line x1="796.7" y1="18.79" x2="801.7" y2="18.79" stroke="#1a1a1a" stroke-width="1.2" stroke-linecap="butt"/>
<line x1="796.7" y1="11.5" x2="801.7" y2="11.5" stroke="#1a1a1a" stroke-width="1.2" stroke-linecap="butt"/>
<line x1="801.7" y1="266.7" x2="801.7" y2="271.7" stroke="#1a1a1a" stroke-width="1.2" stroke-linecap="butt"/>
<line x1="910.15" y1="266.7" x2="910.15" y2="271.7" stroke="#1a1a1a" stroke-width="1.2" stroke-linecap="butt"/>
<line x1="1018.6" y1="266.7" x2="1018.6" y2="271.7" stroke="#1a1a1a" stroke-width="1.2" stroke-linecap="butt"/>
<line x1="855.93" y1="266.7" x2="855.93" y2="271.7" stroke="#1a1a1a" stroke-width="1.2" stroke-linecap="butt"/>
<line x1="872.25" y1="266.7" x2="872.25" y2="271.7" stroke="#1a1a1a" stroke-width="1.2" stroke-linecap="butt"/>
<line x1="881.8" y1="266.7" x2="881.8" y2="271.7" stroke="#1a1a1a" stroke-width="1.2" stroke-linecap="butt"/>
<line x1="888.57" y1="266.7" x2="888.57" y2="271.7" stroke="#1a1a1a" stroke-width="1.2" stroke-linecap="butt"/>
<line x1="893.83" y1="266.7" x2="893.83" y2="271.7" stroke="#1a1a1a" stroke-width="1.2" stroke-linecap="butt"/>
<line x1="898.12" y1="266.7" x2="898.12" y2="271.7" stroke="#1a1a1a" stroke-width="1.2" stroke-linecap="butt"/>
<line x1="901.75" y1="266.7" x2="901.75" y2="271.7" stroke="#1a1a1a" stroke-width="1.2" stroke-linecap="butt"/>
<line x1="904.9" y1="266.7" x2="904.9" y2="271.7" stroke="#1a1a1a" stroke-width="1.2" stroke-linecap="butt"/>
<line x1="907.67" y1="266.7" x2="907.67" y2="271.7" stroke="#1a1a1a" stroke-width="1.2" stroke-linecap="butt"/>
<line x1="964.38" y1="266.7" x2="964.38" y2="271.7" stroke="#1a1a1a" stroke-width="1.2" stroke-linecap="butt"/>
<line x1="980.7" y1="266.7" x2="980.7" y2="271.7" stroke="#1a1a1a" stroke-width="1.2" stroke-linecap="butt"/>
<line x1="990.25" y1="266.7" x2="990.25" y2="271.7" stroke="#1a1a1a" stroke-width="1.2" stroke-linecap="butt"/>
<line x1="997.02" y1="266.7" x2="997.02" y2="271.7" stroke="#1a1a1a" stroke-width="1.2" stroke-linecap="butt"/>
<line x1="1002.28" y1="266.7" x2="1002.28" y2="271.7" stroke="#1a1a1a" stroke-width="1.2" stroke-linecap="butt"/>
<line x1="1006.57" y1="266.7" x2="1006.57" y2="271.7" stroke="#1a1a1a" stroke-width="1.2" stroke-linecap="butt"/>
<line x1="1010.2" y1="266.7" x2="1010.2" y2="271.7" stroke="#1a1a1a" stroke-width="1.2" stroke-linecap="butt"/>
<line x1="1013.35" y1="266.7" x2="1013.35" y2="271.7" stroke="#1a1a1a" stroke-width="1.2" stroke-linecap="butt"/>
<line x1="1016.12" y1="266.7" x2="1016.12" y2="271.7" stroke="#1a1a1a" stroke-width="1.2" stroke-linecap="butt"/>
<rect x="801.7" y="11.5" width="216.9" height="255.2" fill="none" stroke="#1a1a1a" stroke-width="1.3"/>
<text x="788" y="271.7" font-size="18" text-anchor="end" fill="#1a1a1a">0</text>
<text x="788" y="235.24" font-size="18" text-anchor="end" fill="#1a1a1a">20</text>
<text x="788" y="198.79" font-size="18" text-anchor="end" fill="#1a1a1a">40</text>
<text x="788" y="162.33" font-size="18" text-anchor="end" fill="#1a1a1a">60</text>
<text x="788" y="125.87" font-size="18" text-anchor="end" fill="#1a1a1a">80</text>
<text x="788" y="89.41" font-size="18" text-anchor="end" fill="#1a1a1a">100</text>
<text x="788" y="52.96" font-size="18" text-anchor="end" fill="#1a1a1a">120</text>
<text x="788" y="16.5" font-size="18" text-anchor="end" fill="#1a1a1a">140</text>
<text x="801.7" y="292.4" font-size="18" text-anchor="middle" fill="#1a1a1a">0.01</text>
<text x="910.15" y="292.4" font-size="18" text-anchor="middle" fill="#1a1a1a">1</text>
<text x="1018.6" y="292.4" font-size="18" text-anchor="middle" fill="#1a1a1a">100</text>
<text x="892.8" y="307" font-size="17.2" text-anchor="middle" fill="#1a1a1a">r (nm)</text>
<text x="753.5" y="142.2" font-size="17.2" text-anchor="middle" fill="#1a1a1a" transform="rotate(-90 753.5 142.2)">W<tspan font-size="12" dy="3.5">rec</tspan><tspan dy="-3.5"> (eV)</tspan></text>
<text x="825.5" y="37" font-size="23.6" text-anchor="start" fill="#1a1a1a">(c)</text>
<path d="M818.5,55.4 C818.8,60.1 819.58,72.7 820.3,83.6 C821.02,94.5 821.62,108.62 822.8,120.8 C823.98,132.98 825.47,144.53 827.4,156.7 C829.33,168.87 831.4,181.48 834.4,193.8 C837.4,206.12 842.53,222.52 845.4,230.6 C848.27,238.68 848.92,238.48 851.6,242.3 C854.28,246.12 858.02,250.47 861.5,253.5 C864.98,256.53 869.42,258.87 872.5,260.5 C875.58,262.13 877.58,262.62 880,263.3 C882.42,263.98 885.83,264.38 887,264.6" fill="none" stroke="#ffc000" stroke-width="2.4" stroke-linejoin="round" stroke-linecap="butt" stroke-dasharray="6 2.3"/>
<line x1="887" y1="264.8" x2="899" y2="264.8" stroke="#ffc000" stroke-width="3" stroke-linecap="butt"/>
<line x1="899" y1="265.2" x2="928.5" y2="265.2" stroke="#ffc000" stroke-width="2.4" stroke-linecap="butt"/>
<line x1="928.5" y1="266" x2="981" y2="266" stroke="#ffc000" stroke-width="1.8" stroke-dasharray="4.5 4" stroke-linecap="butt"/>
<text x="0" y="0" font-size="14.3" text-anchor="start" fill="#f79646" transform="translate(835.5,162.5) rotate(73.5)">resonance</text>
<path d="M890.2,228.2 C891.5,226.02 895.32,219.88 898,215.1 C900.68,210.32 903.92,204.1 906.3,199.5 C908.68,194.9 910.1,190.5 912.3,187.5 C914.5,184.5 917.6,182.1 919.5,181.5 C921.4,180.9 922.6,182.5 923.7,183.9 C924.8,185.3 925.2,186.9 926.1,189.9 C927,192.9 928.2,197.9 929.1,201.9 C930,205.9 930.9,210.52 931.5,213.9 C932.1,217.28 932.5,220.82 932.7,222.2 C932.3,218.22 931.1,205.67 930.3,198.3 C929.5,190.93 928.47,181.9 927.9,178 C927.33,174.1 927.7,179.57 926.9,174.9 C926.1,170.23 924.53,157.02 923.1,150 C921.67,142.98 920.37,138.53 918.3,132.8 C916.23,127.07 913.57,120.38 910.7,115.6 C907.83,110.82 904.3,107.3 901.1,104.1 C897.9,100.9 895.02,98.17 891.5,96.4 C887.98,94.63 887.35,93.92 880,93.5 C872.65,93.08 855.47,93.48 847.4,93.9 C839.33,94.32 835.43,95.4 831.6,96 C827.77,96.6 826.43,97.85 824.4,97.5 C822.37,97.15 820.35,96.3 819.4,93.9 C818.45,91.5 818.47,86.22 818.7,83.1 C818.93,79.98 819.85,76.92 820.8,75.2 C821.75,73.48 822.6,73.28 824.4,72.8 C826.2,72.32 828.48,71.9 831.6,72.3 C834.72,72.7 838.07,74.48 843.1,75.2 C848.13,75.92 855.65,76.1 861.8,76.6 C867.95,77.1 875.05,77.45 880,78.2 C884.95,78.95 887.67,79.5 891.5,81.1 C895.33,82.7 899.48,84.93 903,87.8 C906.52,90.67 909.73,94 912.6,98.3 C915.47,102.6 917.97,107.85 920.2,113.6 C922.43,119.35 924.43,127.23 926,132.8 C927.57,138.37 928.6,142.3 929.6,147 C930.6,151.7 931.18,157.7 932,161 C932.82,164.3 933.68,166.8 934.5,166.8 C935.32,166.8 936.22,164.63 936.9,161 C937.58,157.37 938.03,152.25 938.6,145 C939.17,137.75 939.53,126.55 940.3,117.5 C941.07,108.45 942.33,96.45 943.2,90.7 C944.07,84.95 944.7,82.37 945.5,83 C946.3,83.63 947.1,87.17 948,94.5 C948.9,101.83 949.93,116.15 950.9,127 C951.87,137.85 953.17,152.88 953.8,159.6 C954.43,166.32 954.55,166.02 954.7,167.3 C955.02,162.18 955.9,149.7 956.6,136.6 C957.3,123.5 958.1,100.98 958.9,88.7 C959.7,76.42 960.98,67.2 961.4,62.9 C961.78,65.62 962.97,66.92 963.7,79.2 C964.43,91.48 965.22,121.92 965.8,136.6 C966.38,151.28 966.97,162.18 967.2,167.3 C967.5,159.42 968.43,135.63 969,120 C969.57,104.37 970.33,81.25 970.6,73.5 C970.92,81.25 971.92,104.37 972.5,120 C973.08,135.63 973.83,159.42 974.1,167.3 C974.33,157.75 974.97,128.05 975.5,110 C976.03,91.95 977,67.5 977.3,59" fill="none" stroke="#0066cc" stroke-width="2.3" stroke-linejoin="round" stroke-linecap="butt"/>
<path d="M891.4,228.2 C892.7,226.02 896.52,219.88 899.2,215.1 C901.88,210.32 905.12,203.7 907.5,199.5 C909.88,195.3 911.5,192.1 913.5,189.9 C915.5,187.7 917.9,186.5 919.5,186.3 C921.1,186.1 922,186.7 923.1,188.7 C924.2,190.7 925.1,194.5 926.1,198.3 C927.1,202.1 928.2,207.52 929.1,211.5 C930,215.48 931.1,220.42 931.5,222.2 C931.1,218.42 930,206.87 929.1,199.5 C928.2,192.13 926.62,181.77 926.1,178 C925.58,174.23 926.82,180.6 926,176.9 C925.18,173.2 923.12,162.52 921.2,155.8 C919.28,149.08 916.9,142.35 914.5,136.6 C912.1,130.85 910,125.6 906.8,121.3 C903.6,117 899.77,113.2 895.3,110.8 C890.83,108.4 888.7,107.45 880,106.9 C871.3,106.35 851.65,106.8 843.1,107.5 C834.55,108.2 832.28,110.25 828.7,111.1 C825.12,111.95 823.63,112.72 821.6,112.6 C819.57,112.48 817.58,113.4 816.5,110.4 C815.42,107.4 814.73,99.87 815.1,94.6 C815.47,89.33 817.27,81.92 818.7,78.8 C820.13,75.68 822.03,76.38 823.7,75.9 C825.37,75.42 824.75,75.3 828.7,75.9 C832.65,76.5 840.2,78.42 847.4,79.5 C854.6,80.58 866.47,81.82 871.9,82.4 C877.33,82.98 876.73,82.42 880,83 C883.27,83.58 887.67,84.3 891.5,85.9 C895.33,87.5 899.17,88.93 903,92.6 C906.83,96.27 911.32,102.8 914.5,107.9 C917.68,113 919.87,118.1 922.1,123.2 C924.33,128.3 926.42,134.28 927.9,138.5 C929.38,142.72 930.05,146.05 931,148.5 C931.95,150.95 932.73,153.2 933.6,153.2 C934.47,153.2 935.42,151.87 936.2,148.5 C936.98,145.13 937.45,142 938.3,133 C939.15,124 939.9,105.38 941.3,94.5 C942.7,83.62 945.1,68.67 946.7,67.7 C948.3,66.73 949.57,77.22 950.9,88.7 C952.23,100.18 953.58,125.73 954.7,136.6 C955.82,147.47 957.12,151.02 957.6,153.9 C958.08,147.83 959.55,131.55 960.5,117.5 C961.45,103.45 962.83,77.58 963.3,69.6 C963.78,74.38 965.33,84.25 966.2,98.3 C967.07,112.35 968.12,144.63 968.5,153.9 C968.88,144.92 970.05,116.75 970.8,100 C971.55,83.25 972.63,61.17 973,53.4 C973.3,61.17 974.23,83.9 974.8,100 C975.37,116.1 976.13,141.67 976.4,150 C976.63,141.67 977.37,115.43 977.8,100 C978.23,84.57 978.8,64.5 979,57.4" fill="none" stroke="#9bbb59" stroke-width="2.2" stroke-linejoin="round" stroke-linecap="butt"/>
<line x1="860.4" y1="71.2" x2="887.4" y2="71.2" stroke="#4f81bd" stroke-width="1.4" stroke-linecap="butt"/>
<polygon points="894.9,71.2 886.4,75.45 886.4,66.95" fill="#4f81bd"/>
<line x1="877.6" y1="100.4" x2="860" y2="100.4" stroke="#4f81bd" stroke-width="1.4" stroke-linecap="butt"/>
<polygon points="852.5,100.4 861,96.15 861,104.65" fill="#4f81bd"/>
<line x1="886.6" y1="209.7" x2="891.44" y2="200.7" stroke="#4f81bd" stroke-width="1.4" stroke-linecap="butt"/>
<polygon points="895,194.1 894.71,203.6 887.23,199.57" fill="#4f81bd"/>
<line x1="60.3" y1="369.7" x2="292.2" y2="369.7" stroke="#111" stroke-width="1.4" stroke-dasharray="4.4 3.1" stroke-linecap="butt"/>
<line x1="60.3" y1="410.6" x2="292.2" y2="410.6" stroke="#111" stroke-width="1.4" stroke-dasharray="4.4 3.1" stroke-linecap="butt"/>
<line x1="60.3" y1="451.5" x2="292.2" y2="451.5" stroke="#111" stroke-width="1.4" stroke-dasharray="4.4 3.1" stroke-linecap="butt"/>
<line x1="60.3" y1="492.4" x2="292.2" y2="492.4" stroke="#111" stroke-width="1.4" stroke-dasharray="4.4 3.1" stroke-linecap="butt"/>
<line x1="60.3" y1="533.3" x2="292.2" y2="533.3" stroke="#111" stroke-width="1.4" stroke-dasharray="4.4 3.1" stroke-linecap="butt"/>
<line x1="106.68" y1="328.8" x2="106.68" y2="574.2" stroke="#111" stroke-width="1.4" stroke-dasharray="4.4 3.1" stroke-linecap="butt"/>
<line x1="153.06" y1="328.8" x2="153.06" y2="574.2" stroke="#111" stroke-width="1.4" stroke-dasharray="4.4 3.1" stroke-linecap="butt"/>
<line x1="199.44" y1="328.8" x2="199.44" y2="574.2" stroke="#111" stroke-width="1.4" stroke-dasharray="4.4 3.1" stroke-linecap="butt"/>
<line x1="245.82" y1="328.8" x2="245.82" y2="574.2" stroke="#111" stroke-width="1.4" stroke-dasharray="4.4 3.1" stroke-linecap="butt"/>
<line x1="55.3" y1="574.2" x2="60.3" y2="574.2" stroke="#1a1a1a" stroke-width="1.2" stroke-linecap="butt"/>
<line x1="55.3" y1="563.98" x2="60.3" y2="563.98" stroke="#1a1a1a" stroke-width="1.2" stroke-linecap="butt"/>
<line x1="55.3" y1="553.75" x2="60.3" y2="553.75" stroke="#1a1a1a" stroke-width="1.2" stroke-linecap="butt"/>
<line x1="55.3" y1="543.53" x2="60.3" y2="543.53" stroke="#1a1a1a" stroke-width="1.2" stroke-linecap="butt"/>
<line x1="55.3" y1="533.3" x2="60.3" y2="533.3" stroke="#1a1a1a" stroke-width="1.2" stroke-linecap="butt"/>
<line x1="55.3" y1="523.08" x2="60.3" y2="523.08" stroke="#1a1a1a" stroke-width="1.2" stroke-linecap="butt"/>
<line x1="55.3" y1="512.85" x2="60.3" y2="512.85" stroke="#1a1a1a" stroke-width="1.2" stroke-linecap="butt"/>
<line x1="55.3" y1="502.63" x2="60.3" y2="502.63" stroke="#1a1a1a" stroke-width="1.2" stroke-linecap="butt"/>
<line x1="55.3" y1="492.4" x2="60.3" y2="492.4" stroke="#1a1a1a" stroke-width="1.2" stroke-linecap="butt"/>
<line x1="55.3" y1="482.18" x2="60.3" y2="482.18" stroke="#1a1a1a" stroke-width="1.2" stroke-linecap="butt"/>
<line x1="55.3" y1="471.95" x2="60.3" y2="471.95" stroke="#1a1a1a" stroke-width="1.2" stroke-linecap="butt"/>
<line x1="55.3" y1="461.73" x2="60.3" y2="461.73" stroke="#1a1a1a" stroke-width="1.2" stroke-linecap="butt"/>
<line x1="55.3" y1="451.5" x2="60.3" y2="451.5" stroke="#1a1a1a" stroke-width="1.2" stroke-linecap="butt"/>
<line x1="55.3" y1="441.28" x2="60.3" y2="441.28" stroke="#1a1a1a" stroke-width="1.2" stroke-linecap="butt"/>
<line x1="55.3" y1="431.05" x2="60.3" y2="431.05" stroke="#1a1a1a" stroke-width="1.2" stroke-linecap="butt"/>
<line x1="55.3" y1="420.83" x2="60.3" y2="420.83" stroke="#1a1a1a" stroke-width="1.2" stroke-linecap="butt"/>
<line x1="55.3" y1="410.6" x2="60.3" y2="410.6" stroke="#1a1a1a" stroke-width="1.2" stroke-linecap="butt"/>
<line x1="55.3" y1="400.38" x2="60.3" y2="400.38" stroke="#1a1a1a" stroke-width="1.2" stroke-linecap="butt"/>
<line x1="55.3" y1="390.15" x2="60.3" y2="390.15" stroke="#1a1a1a" stroke-width="1.2" stroke-linecap="butt"/>
<line x1="55.3" y1="379.93" x2="60.3" y2="379.93" stroke="#1a1a1a" stroke-width="1.2" stroke-linecap="butt"/>
<line x1="55.3" y1="369.7" x2="60.3" y2="369.7" stroke="#1a1a1a" stroke-width="1.2" stroke-linecap="butt"/>
<line x1="55.3" y1="359.48" x2="60.3" y2="359.48" stroke="#1a1a1a" stroke-width="1.2" stroke-linecap="butt"/>
<line x1="55.3" y1="349.25" x2="60.3" y2="349.25" stroke="#1a1a1a" stroke-width="1.2" stroke-linecap="butt"/>
<line x1="55.3" y1="339.03" x2="60.3" y2="339.03" stroke="#1a1a1a" stroke-width="1.2" stroke-linecap="butt"/>
<line x1="55.3" y1="328.8" x2="60.3" y2="328.8" stroke="#1a1a1a" stroke-width="1.2" stroke-linecap="butt"/>
<line x1="60.3" y1="574.2" x2="60.3" y2="579.2" stroke="#1a1a1a" stroke-width="1.2" stroke-linecap="butt"/>
<line x1="69.58" y1="574.2" x2="69.58" y2="579.2" stroke="#1a1a1a" stroke-width="1.2" stroke-linecap="butt"/>
<line x1="78.85" y1="574.2" x2="78.85" y2="579.2" stroke="#1a1a1a" stroke-width="1.2" stroke-linecap="butt"/>
<line x1="88.13" y1="574.2" x2="88.13" y2="579.2" stroke="#1a1a1a" stroke-width="1.2" stroke-linecap="butt"/>
<line x1="97.4" y1="574.2" x2="97.4" y2="579.2" stroke="#1a1a1a" stroke-width="1.2" stroke-linecap="butt"/>
<line x1="106.68" y1="574.2" x2="106.68" y2="579.2" stroke="#1a1a1a" stroke-width="1.2" stroke-linecap="butt"/>
<line x1="115.96" y1="574.2" x2="115.96" y2="579.2" stroke="#1a1a1a" stroke-width="1.2" stroke-linecap="butt"/>
<line x1="125.23" y1="574.2" x2="125.23" y2="579.2" stroke="#1a1a1a" stroke-width="1.2" stroke-linecap="butt"/>
<line x1="134.51" y1="574.2" x2="134.51" y2="579.2" stroke="#1a1a1a" stroke-width="1.2" stroke-linecap="butt"/>
<line x1="143.78" y1="574.2" x2="143.78" y2="579.2" stroke="#1a1a1a" stroke-width="1.2" stroke-linecap="butt"/>
<line x1="153.06" y1="574.2" x2="153.06" y2="579.2" stroke="#1a1a1a" stroke-width="1.2" stroke-linecap="butt"/>
<line x1="162.34" y1="574.2" x2="162.34" y2="579.2" stroke="#1a1a1a" stroke-width="1.2" stroke-linecap="butt"/>
<line x1="171.61" y1="574.2" x2="171.61" y2="579.2" stroke="#1a1a1a" stroke-width="1.2" stroke-linecap="butt"/>
<line x1="180.89" y1="574.2" x2="180.89" y2="579.2" stroke="#1a1a1a" stroke-width="1.2" stroke-linecap="butt"/>
<line x1="190.16" y1="574.2" x2="190.16" y2="579.2" stroke="#1a1a1a" stroke-width="1.2" stroke-linecap="butt"/>
<line x1="199.44" y1="574.2" x2="199.44" y2="579.2" stroke="#1a1a1a" stroke-width="1.2" stroke-linecap="butt"/>
<line x1="208.72" y1="574.2" x2="208.72" y2="579.2" stroke="#1a1a1a" stroke-width="1.2" stroke-linecap="butt"/>
<line x1="217.99" y1="574.2" x2="217.99" y2="579.2" stroke="#1a1a1a" stroke-width="1.2" stroke-linecap="butt"/>
<line x1="227.27" y1="574.2" x2="227.27" y2="579.2" stroke="#1a1a1a" stroke-width="1.2" stroke-linecap="butt"/>
<line x1="236.54" y1="574.2" x2="236.54" y2="579.2" stroke="#1a1a1a" stroke-width="1.2" stroke-linecap="butt"/>
<line x1="245.82" y1="574.2" x2="245.82" y2="579.2" stroke="#1a1a1a" stroke-width="1.2" stroke-linecap="butt"/>
<line x1="255.1" y1="574.2" x2="255.1" y2="579.2" stroke="#1a1a1a" stroke-width="1.2" stroke-linecap="butt"/>
<line x1="264.37" y1="574.2" x2="264.37" y2="579.2" stroke="#1a1a1a" stroke-width="1.2" stroke-linecap="butt"/>
<line x1="273.65" y1="574.2" x2="273.65" y2="579.2" stroke="#1a1a1a" stroke-width="1.2" stroke-linecap="butt"/>
<line x1="282.92" y1="574.2" x2="282.92" y2="579.2" stroke="#1a1a1a" stroke-width="1.2" stroke-linecap="butt"/>
<line x1="292.2" y1="574.2" x2="292.2" y2="579.2" stroke="#1a1a1a" stroke-width="1.2" stroke-linecap="butt"/>
<rect x="60.3" y="328.8" width="231.9" height="245.4" fill="none" stroke="#1a1a1a" stroke-width="1.3"/>
<text x="46.3" y="579.2" font-size="18" text-anchor="end" fill="#1a1a1a">-12</text>
<text x="46.3" y="538.3" font-size="18" text-anchor="end" fill="#1a1a1a">-8</text>
<text x="46.3" y="497.4" font-size="18" text-anchor="end" fill="#1a1a1a">-4</text>
<text x="46.3" y="456.5" font-size="18" text-anchor="end" fill="#1a1a1a">0</text>
<text x="46.3" y="415.6" font-size="18" text-anchor="end" fill="#1a1a1a">4</text>
<text x="46.3" y="374.7" font-size="18" text-anchor="end" fill="#1a1a1a">8</text>
<text x="46.3" y="333.8" font-size="18" text-anchor="end" fill="#1a1a1a">12</text>
<text x="60.3" y="600.6" font-size="18" text-anchor="middle" fill="#1a1a1a">-0.1</text>
<text x="106.68" y="600.6" font-size="18" text-anchor="middle" fill="#1a1a1a">0</text>
<text x="153.06" y="600.6" font-size="18" text-anchor="middle" fill="#1a1a1a">0.1</text>
<text x="199.44" y="600.6" font-size="18" text-anchor="middle" fill="#1a1a1a">0.2</text>
<text x="245.82" y="600.6" font-size="18" text-anchor="middle" fill="#1a1a1a">0.3</text>
<text x="292.2" y="600.6" font-size="18" text-anchor="middle" fill="#1a1a1a">0.4</text>
<text x="173.8" y="619.5" font-size="17.2" text-anchor="middle" fill="#1a1a1a">z (nm)</text>
<text x="21.5" y="455.6" font-size="17.2" text-anchor="middle" fill="#1a1a1a" transform="rotate(-90 21.5 455.6)">x (nm)</text>
<line x1="192.3" y1="341" x2="221.6" y2="341" stroke="#0066cc" stroke-width="2.2" stroke-linecap="butt"/>
<line x1="192.3" y1="361" x2="221.6" y2="361" stroke="#9bbb59" stroke-width="2.2" stroke-linecap="butt"/>
<text x="224.5" y="345.6" font-size="18" text-anchor="start" fill="#1a1a1a" textLength="57.5" lengthAdjust="spacingAndGlyphs">OHC#6</text>
<text x="224.5" y="365.9" font-size="18" text-anchor="start" fill="#1a1a1a" textLength="57.5" lengthAdjust="spacingAndGlyphs">OHC#7</text>
<text x="70" y="353.6" font-size="23.6" text-anchor="start" fill="#1a1a1a">(d)</text>
<path d="M60,452.6 C63.33,452.6 72.1,452.7 80,452.6 C87.9,452.5 102.83,452.1 107.4,452 C107.67,450.67 108.1,446.85 109,444 C109.9,441.15 111.1,437.9 112.8,434.9 C114.5,431.9 116.33,430.05 119.2,426 C122.07,421.95 126.18,415.28 130,410.6 C133.82,405.92 137.73,402.57 142.1,397.9 C146.47,393.23 152.13,387.17 156.2,382.6 C160.27,378.03 163.82,374.87 166.5,370.5 C169.18,366.13 171.33,358.75 172.3,356.4 C173.3,358.52 174.32,363.43 178.3,369.1 C182.28,374.77 189.87,383.12 196.2,390.4 C202.53,397.68 209.97,406.47 216.3,412.8 C222.63,419.13 228.38,422.93 234.2,428.4 C240.02,433.87 247.63,441.47 251.2,445.6 C254.77,449.73 254.65,450.65 255.6,453.2 C256.55,455.75 257.32,458.02 256.9,460.9 C256.48,463.78 255.12,468.27 253.1,470.5 C251.08,472.73 247.47,473.67 244.8,474.3 C242.13,474.93 239.45,475.25 237.1,474.3 C234.75,473.35 232.3,471.25 230.7,468.6 C229.1,465.95 228.25,462.02 227.5,458.4 C226.75,454.78 227.37,451.17 226.2,446.9 C225.03,442.63 222.15,438.12 220.5,432.8 C218.85,427.48 217.73,420.57 216.3,415 C214.87,409.43 214.13,404.62 211.9,399.4 C209.67,394.18 206.63,388 202.9,383.7 C199.17,379.4 194.72,376.22 189.5,373.6 C184.28,370.98 177.2,369 171.6,368 C166,367 161.5,367.22 155.9,367.6 C150.3,367.98 143.58,368.55 138,370.3 C132.42,372.05 126.68,375.12 122.4,378.1 C118.12,381.08 114.83,383.92 112.3,388.2 C109.77,392.48 108.02,396.83 107.2,403.8 C106.38,410.77 107.37,421.97 107.4,430 C107.43,438.03 107.4,448.33 107.4,452" fill="none" stroke="#9bbb59" stroke-width="2.3" stroke-linejoin="round" stroke-linecap="butt"/>
<path d="M60,450.4 C63.42,450.4 72.67,450.27 80.5,450.4 C88.33,450.53 102.58,451.07 107,451.2 C108.25,454.18 110.47,463.35 114.5,469.1 C118.53,474.85 124.97,479.12 131.2,485.7 C137.43,492.28 144.98,500.98 151.9,508.6 C158.82,516.22 167.5,525.17 172.7,531.4 C177.9,537.63 180.67,541.5 183.1,546 C185.53,550.5 186.6,556.33 187.3,558.4 C189.03,555.28 193.2,545.93 197.7,539.7 C202.2,533.47 208.42,527.23 214.3,521 C220.18,514.77 225.8,509.12 233,502.3 C240.2,495.48 251.28,485.93 257.5,480.1 C263.72,474.27 266.67,471.35 270.3,467.3 C273.93,463.25 277.38,458.78 279.3,455.8 C281.22,452.82 282.02,451.63 281.8,449.4 C281.58,447.17 280.12,444.1 278,442.4 C275.88,440.7 271.87,439.52 269.1,439.2 C266.33,438.88 264.18,439.02 261.4,440.5 C258.62,441.98 255.6,444.92 252.4,448.1 C249.2,451.28 245.08,455.07 242.2,459.6 C239.32,464.13 236.82,469.9 235.1,475.3 C233.38,480.7 232.95,486.12 231.9,492 C230.85,497.88 230.35,504.03 228.8,510.6 C227.25,517.17 225.72,525.5 222.6,531.4 C219.48,537.3 215.3,542.18 210.1,546 C204.9,549.82 197.63,552.4 191.4,554.3 C185.17,556.2 179.28,557.4 172.7,557.4 C166.12,557.4 158.82,556.55 151.9,554.3 C144.98,552.05 136.73,548.4 131.2,543.9 C125.67,539.4 121.48,534.23 118.7,527.3 C115.92,520.37 115.2,511.65 114.5,502.3 C113.8,492.95 115.35,478.98 114.5,471.2 C113.65,463.42 110.65,458.93 109.4,455.6 C108.15,452.27 107.4,451.93 107,451.2" fill="none" stroke="#0066cc" stroke-width="2.3" stroke-linejoin="round" stroke-linecap="butt"/>
<line x1="97.1" y1="444.1" x2="79.1" y2="444.1" stroke="#4f81bd" stroke-width="1.4" stroke-linecap="butt"/>
<polygon points="71.6,444.1 80.1,439.85 80.1,448.35" fill="#4f81bd"/>
<line x1="92.7" y1="461.6" x2="78.8" y2="461.6" stroke="#9bbb59" stroke-width="1.4" stroke-linecap="butt"/>
<polygon points="71.3,461.6 79.8,457.35 79.8,465.85" fill="#9bbb59"/>
<line x1="97.1" y1="409.6" x2="98.94" y2="427.64" stroke="#9bbb59" stroke-width="1.4" stroke-linecap="butt"/>
<polygon points="99.7,435.1 94.61,427.07 103.07,426.21" fill="#9bbb59"/>
<line x1="116.8" y1="418.4" x2="134.06" y2="399.36" stroke="#9bbb59" stroke-width="1.4" stroke-linecap="butt"/>
<polygon points="139.1,393.8 136.54,402.95 130.24,397.24" fill="#9bbb59"/>
<line x1="132.2" y1="505.5" x2="143.5" y2="516.8" stroke="#4f81bd" stroke-width="1.4" stroke-linecap="butt"/>
<polygon points="148.8,522.1 139.78,519.09 145.79,513.08" fill="#4f81bd"/>
<line x1="104.6" y1="513.8" x2="104.6" y2="496.3" stroke="#4f81bd" stroke-width="1.4" stroke-linecap="butt"/>
<polygon points="104.6,488.8 108.85,497.3 100.35,497.3" fill="#4f81bd"/>
<line x1="374.3" y1="370.44" x2="652.5" y2="370.44" stroke="#8a8a8a" stroke-width="1.2" stroke-dasharray="4.4 3.1" stroke-linecap="butt"/>
<line x1="374.3" y1="419.48" x2="652.5" y2="419.48" stroke="#8a8a8a" stroke-width="1.2" stroke-dasharray="4.4 3.1" stroke-linecap="butt"/>
<line x1="374.3" y1="468.52" x2="652.5" y2="468.52" stroke="#8a8a8a" stroke-width="1.2" stroke-dasharray="4.4 3.1" stroke-linecap="butt"/>
<line x1="374.3" y1="517.56" x2="652.5" y2="517.56" stroke="#8a8a8a" stroke-width="1.2" stroke-dasharray="4.4 3.1" stroke-linecap="butt"/>
<line x1="369.3" y1="566.6" x2="374.3" y2="566.6" stroke="#1a1a1a" stroke-width="1.2" stroke-linecap="butt"/>
<line x1="369.3" y1="551.84" x2="374.3" y2="551.84" stroke="#1a1a1a" stroke-width="1.2" stroke-linecap="butt"/>
<line x1="369.3" y1="543.2" x2="374.3" y2="543.2" stroke="#1a1a1a" stroke-width="1.2" stroke-linecap="butt"/>
<line x1="369.3" y1="537.07" x2="374.3" y2="537.07" stroke="#1a1a1a" stroke-width="1.2" stroke-linecap="butt"/>
<line x1="369.3" y1="532.32" x2="374.3" y2="532.32" stroke="#1a1a1a" stroke-width="1.2" stroke-linecap="butt"/>
<line x1="369.3" y1="528.44" x2="374.3" y2="528.44" stroke="#1a1a1a" stroke-width="1.2" stroke-linecap="butt"/>
<line x1="369.3" y1="525.16" x2="374.3" y2="525.16" stroke="#1a1a1a" stroke-width="1.2" stroke-linecap="butt"/>
<line x1="369.3" y1="522.31" x2="374.3" y2="522.31" stroke="#1a1a1a" stroke-width="1.2" stroke-linecap="butt"/>
<line x1="369.3" y1="519.8" x2="374.3" y2="519.8" stroke="#1a1a1a" stroke-width="1.2" stroke-linecap="butt"/>
<line x1="369.3" y1="517.56" x2="374.3" y2="517.56" stroke="#1a1a1a" stroke-width="1.2" stroke-linecap="butt"/>
<line x1="369.3" y1="502.8" x2="374.3" y2="502.8" stroke="#1a1a1a" stroke-width="1.2" stroke-linecap="butt"/>
<line x1="369.3" y1="494.16" x2="374.3" y2="494.16" stroke="#1a1a1a" stroke-width="1.2" stroke-linecap="butt"/>
<line x1="369.3" y1="488.03" x2="374.3" y2="488.03" stroke="#1a1a1a" stroke-width="1.2" stroke-linecap="butt"/>
<line x1="369.3" y1="483.28" x2="374.3" y2="483.28" stroke="#1a1a1a" stroke-width="1.2" stroke-linecap="butt"/>
<line x1="369.3" y1="479.4" x2="374.3" y2="479.4" stroke="#1a1a1a" stroke-width="1.2" stroke-linecap="butt"/>
<line x1="369.3" y1="476.12" x2="374.3" y2="476.12" stroke="#1a1a1a" stroke-width="1.2" stroke-linecap="butt"/>
<line x1="369.3" y1="473.27" x2="374.3" y2="473.27" stroke="#1a1a1a" stroke-width="1.2" stroke-linecap="butt"/>
<line x1="369.3" y1="470.76" x2="374.3" y2="470.76" stroke="#1a1a1a" stroke-width="1.2" stroke-linecap="butt"/>
<line x1="369.3" y1="468.52" x2="374.3" y2="468.52" stroke="#1a1a1a" stroke-width="1.2" stroke-linecap="butt"/>
<line x1="369.3" y1="453.76" x2="374.3" y2="453.76" stroke="#1a1a1a" stroke-width="1.2" stroke-linecap="butt"/>
<line x1="369.3" y1="445.12" x2="374.3" y2="445.12" stroke="#1a1a1a" stroke-width="1.2" stroke-linecap="butt"/>
<line x1="369.3" y1="438.99" x2="374.3" y2="438.99" stroke="#1a1a1a" stroke-width="1.2" stroke-linecap="butt"/>
<line x1="369.3" y1="434.24" x2="374.3" y2="434.24" stroke="#1a1a1a" stroke-width="1.2" stroke-linecap="butt"/>
<line x1="369.3" y1="430.36" x2="374.3" y2="430.36" stroke="#1a1a1a" stroke-width="1.2" stroke-linecap="butt"/>
<line x1="369.3" y1="427.08" x2="374.3" y2="427.08" stroke="#1a1a1a" stroke-width="1.2" stroke-linecap="butt"/>
<line x1="369.3" y1="424.23" x2="374.3" y2="424.23" stroke="#1a1a1a" stroke-width="1.2" stroke-linecap="butt"/>
<line x1="369.3" y1="421.72" x2="374.3" y2="421.72" stroke="#1a1a1a" stroke-width="1.2" stroke-linecap="butt"/>
<line x1="369.3" y1="419.48" x2="374.3" y2="419.48" stroke="#1a1a1a" stroke-width="1.2" stroke-linecap="butt"/>
<line x1="369.3" y1="404.72" x2="374.3" y2="404.72" stroke="#1a1a1a" stroke-width="1.2" stroke-linecap="butt"/>
<line x1="369.3" y1="396.08" x2="374.3" y2="396.08" stroke="#1a1a1a" stroke-width="1.2" stroke-linecap="butt"/>
<line x1="369.3" y1="389.95" x2="374.3" y2="389.95" stroke="#1a1a1a" stroke-width="1.2" stroke-linecap="butt"/>
<line x1="369.3" y1="385.2" x2="374.3" y2="385.2" stroke="#1a1a1a" stroke-width="1.2" stroke-linecap="butt"/>
<line x1="369.3" y1="381.32" x2="374.3" y2="381.32" stroke="#1a1a1a" stroke-width="1.2" stroke-linecap="butt"/>
<line x1="369.3" y1="378.04" x2="374.3" y2="378.04" stroke="#1a1a1a" stroke-width="1.2" stroke-linecap="butt"/>
<line x1="369.3" y1="375.19" x2="374.3" y2="375.19" stroke="#1a1a1a" stroke-width="1.2" stroke-linecap="butt"/>
<line x1="369.3" y1="372.68" x2="374.3" y2="372.68" stroke="#1a1a1a" stroke-width="1.2" stroke-linecap="butt"/>
<line x1="369.3" y1="370.44" x2="374.3" y2="370.44" stroke="#1a1a1a" stroke-width="1.2" stroke-linecap="butt"/>
<line x1="369.3" y1="355.68" x2="374.3" y2="355.68" stroke="#1a1a1a" stroke-width="1.2" stroke-linecap="butt"/>
<line x1="369.3" y1="347.04" x2="374.3" y2="347.04" stroke="#1a1a1a" stroke-width="1.2" stroke-linecap="butt"/>
<line x1="369.3" y1="340.91" x2="374.3" y2="340.91" stroke="#1a1a1a" stroke-width="1.2" stroke-linecap="butt"/>
<line x1="369.3" y1="336.16" x2="374.3" y2="336.16" stroke="#1a1a1a" stroke-width="1.2" stroke-linecap="butt"/>
<line x1="369.3" y1="332.28" x2="374.3" y2="332.28" stroke="#1a1a1a" stroke-width="1.2" stroke-linecap="butt"/>
<line x1="369.3" y1="329" x2="374.3" y2="329" stroke="#1a1a1a" stroke-width="1.2" stroke-linecap="butt"/>
<line x1="369.3" y1="326.15" x2="374.3" y2="326.15" stroke="#1a1a1a" stroke-width="1.2" stroke-linecap="butt"/>
<line x1="369.3" y1="323.64" x2="374.3" y2="323.64" stroke="#1a1a1a" stroke-width="1.2" stroke-linecap="butt"/>
<line x1="369.3" y1="321.4" x2="374.3" y2="321.4" stroke="#1a1a1a" stroke-width="1.2" stroke-linecap="butt"/>
<line x1="652.5" y1="566.6" x2="657.5" y2="566.6" stroke="#1a1a1a" stroke-width="1.2" stroke-linecap="butt"/>
<line x1="652.5" y1="561.7" x2="657.5" y2="561.7" stroke="#1a1a1a" stroke-width="1.2" stroke-linecap="butt"/>
<line x1="652.5" y1="556.79" x2="657.5" y2="556.79" stroke="#1a1a1a" stroke-width="1.2" stroke-linecap="butt"/>
<line x1="652.5" y1="551.89" x2="657.5" y2="551.89" stroke="#1a1a1a" stroke-width="1.2" stroke-linecap="butt"/>
<line x1="652.5" y1="546.98" x2="657.5" y2="546.98" stroke="#1a1a1a" stroke-width="1.2" stroke-linecap="butt"/>
<line x1="652.5" y1="542.08" x2="657.5" y2="542.08" stroke="#1a1a1a" stroke-width="1.2" stroke-linecap="butt"/>
<line x1="652.5" y1="537.18" x2="657.5" y2="537.18" stroke="#1a1a1a" stroke-width="1.2" stroke-linecap="butt"/>
<line x1="652.5" y1="532.27" x2="657.5" y2="532.27" stroke="#1a1a1a" stroke-width="1.2" stroke-linecap="butt"/>
<line x1="652.5" y1="527.37" x2="657.5" y2="527.37" stroke="#1a1a1a" stroke-width="1.2" stroke-linecap="butt"/>
<line x1="652.5" y1="522.46" x2="657.5" y2="522.46" stroke="#1a1a1a" stroke-width="1.2" stroke-linecap="butt"/>
<line x1="652.5" y1="517.56" x2="657.5" y2="517.56" stroke="#1a1a1a" stroke-width="1.2" stroke-linecap="butt"/>
<line x1="652.5" y1="512.66" x2="657.5" y2="512.66" stroke="#1a1a1a" stroke-width="1.2" stroke-linecap="butt"/>
<line x1="652.5" y1="507.75" x2="657.5" y2="507.75" stroke="#1a1a1a" stroke-width="1.2" stroke-linecap="butt"/>
<line x1="652.5" y1="502.85" x2="657.5" y2="502.85" stroke="#1a1a1a" stroke-width="1.2" stroke-linecap="butt"/>
<line x1="652.5" y1="497.94" x2="657.5" y2="497.94" stroke="#1a1a1a" stroke-width="1.2" stroke-linecap="butt"/>
<line x1="652.5" y1="493.04" x2="657.5" y2="493.04" stroke="#1a1a1a" stroke-width="1.2" stroke-linecap="butt"/>
<line x1="652.5" y1="488.14" x2="657.5" y2="488.14" stroke="#1a1a1a" stroke-width="1.2" stroke-linecap="butt"/>
<line x1="652.5" y1="483.23" x2="657.5" y2="483.23" stroke="#1a1a1a" stroke-width="1.2" stroke-linecap="butt"/>
<line x1="652.5" y1="478.33" x2="657.5" y2="478.33" stroke="#1a1a1a" stroke-width="1.2" stroke-linecap="butt"/>
<line x1="652.5" y1="473.42" x2="657.5" y2="473.42" stroke="#1a1a1a" stroke-width="1.2" stroke-linecap="butt"/>
<line x1="652.5" y1="468.52" x2="657.5" y2="468.52" stroke="#1a1a1a" stroke-width="1.2" stroke-linecap="butt"/>
<line x1="652.5" y1="463.62" x2="657.5" y2="463.62" stroke="#1a1a1a" stroke-width="1.2" stroke-linecap="butt"/>
<line x1="652.5" y1="458.71" x2="657.5" y2="458.71" stroke="#1a1a1a" stroke-width="1.2" stroke-linecap="butt"/>
<line x1="652.5" y1="453.81" x2="657.5" y2="453.81" stroke="#1a1a1a" stroke-width="1.2" stroke-linecap="butt"/>
<line x1="652.5" y1="448.9" x2="657.5" y2="448.9" stroke="#1a1a1a" stroke-width="1.2" stroke-linecap="butt"/>
<line x1="652.5" y1="444" x2="657.5" y2="444" stroke="#1a1a1a" stroke-width="1.2" stroke-linecap="butt"/>
<line x1="652.5" y1="439.1" x2="657.5" y2="439.1" stroke="#1a1a1a" stroke-width="1.2" stroke-linecap="butt"/>
<line x1="652.5" y1="434.19" x2="657.5" y2="434.19" stroke="#1a1a1a" stroke-width="1.2" stroke-linecap="butt"/>
<line x1="652.5" y1="429.29" x2="657.5" y2="429.29" stroke="#1a1a1a" stroke-width="1.2" stroke-linecap="butt"/>
<line x1="652.5" y1="424.38" x2="657.5" y2="424.38" stroke="#1a1a1a" stroke-width="1.2" stroke-linecap="butt"/>
<line x1="652.5" y1="419.48" x2="657.5" y2="419.48" stroke="#1a1a1a" stroke-width="1.2" stroke-linecap="butt"/>
<line x1="652.5" y1="414.58" x2="657.5" y2="414.58" stroke="#1a1a1a" stroke-width="1.2" stroke-linecap="butt"/>
<line x1="652.5" y1="409.67" x2="657.5" y2="409.67" stroke="#1a1a1a" stroke-width="1.2" stroke-linecap="butt"/>
<line x1="652.5" y1="404.77" x2="657.5" y2="404.77" stroke="#1a1a1a" stroke-width="1.2" stroke-linecap="butt"/>
<line x1="652.5" y1="399.86" x2="657.5" y2="399.86" stroke="#1a1a1a" stroke-width="1.2" stroke-linecap="butt"/>
<line x1="652.5" y1="394.96" x2="657.5" y2="394.96" stroke="#1a1a1a" stroke-width="1.2" stroke-linecap="butt"/>
<line x1="652.5" y1="390.06" x2="657.5" y2="390.06" stroke="#1a1a1a" stroke-width="1.2" stroke-linecap="butt"/>
<line x1="652.5" y1="385.15" x2="657.5" y2="385.15" stroke="#1a1a1a" stroke-width="1.2" stroke-linecap="butt"/>
<line x1="652.5" y1="380.25" x2="657.5" y2="380.25" stroke="#1a1a1a" stroke-width="1.2" stroke-linecap="butt"/>
<line x1="652.5" y1="375.34" x2="657.5" y2="375.34" stroke="#1a1a1a" stroke-width="1.2" stroke-linecap="butt"/>
<line x1="652.5" y1="370.44" x2="657.5" y2="370.44" stroke="#1a1a1a" stroke-width="1.2" stroke-linecap="butt"/>
<line x1="652.5" y1="365.54" x2="657.5" y2="365.54" stroke="#1a1a1a" stroke-width="1.2" stroke-linecap="butt"/>
<line x1="652.5" y1="360.63" x2="657.5" y2="360.63" stroke="#1a1a1a" stroke-width="1.2" stroke-linecap="butt"/>
<line x1="652.5" y1="355.73" x2="657.5" y2="355.73" stroke="#1a1a1a" stroke-width="1.2" stroke-linecap="butt"/>
<line x1="652.5" y1="350.82" x2="657.5" y2="350.82" stroke="#1a1a1a" stroke-width="1.2" stroke-linecap="butt"/>
<line x1="652.5" y1="345.92" x2="657.5" y2="345.92" stroke="#1a1a1a" stroke-width="1.2" stroke-linecap="butt"/>
<line x1="652.5" y1="341.02" x2="657.5" y2="341.02" stroke="#1a1a1a" stroke-width="1.2" stroke-linecap="butt"/>
<line x1="652.5" y1="336.11" x2="657.5" y2="336.11" stroke="#1a1a1a" stroke-width="1.2" stroke-linecap="butt"/>
<line x1="652.5" y1="331.21" x2="657.5" y2="331.21" stroke="#1a1a1a" stroke-width="1.2" stroke-linecap="butt"/>
<line x1="652.5" y1="326.3" x2="657.5" y2="326.3" stroke="#1a1a1a" stroke-width="1.2" stroke-linecap="butt"/>
<line x1="652.5" y1="321.4" x2="657.5" y2="321.4" stroke="#1a1a1a" stroke-width="1.2" stroke-linecap="butt"/>
<line x1="374.3" y1="566.6" x2="374.3" y2="571.6" stroke="#1a1a1a" stroke-width="1.2" stroke-linecap="butt"/>
<line x1="385.43" y1="566.6" x2="385.43" y2="571.6" stroke="#1a1a1a" stroke-width="1.2" stroke-linecap="butt"/>
<line x1="396.56" y1="566.6" x2="396.56" y2="571.6" stroke="#1a1a1a" stroke-width="1.2" stroke-linecap="butt"/>
<line x1="407.68" y1="566.6" x2="407.68" y2="571.6" stroke="#1a1a1a" stroke-width="1.2" stroke-linecap="butt"/>
<line x1="418.81" y1="566.6" x2="418.81" y2="571.6" stroke="#1a1a1a" stroke-width="1.2" stroke-linecap="butt"/>
<line x1="429.94" y1="566.6" x2="429.94" y2="571.6" stroke="#1a1a1a" stroke-width="1.2" stroke-linecap="butt"/>
<line x1="441.07" y1="566.6" x2="441.07" y2="571.6" stroke="#1a1a1a" stroke-width="1.2" stroke-linecap="butt"/>
<line x1="452.2" y1="566.6" x2="452.2" y2="571.6" stroke="#1a1a1a" stroke-width="1.2" stroke-linecap="butt"/>
<line x1="463.32" y1="566.6" x2="463.32" y2="571.6" stroke="#1a1a1a" stroke-width="1.2" stroke-linecap="butt"/>
<line x1="474.45" y1="566.6" x2="474.45" y2="571.6" stroke="#1a1a1a" stroke-width="1.2" stroke-linecap="butt"/>
<line x1="485.58" y1="566.6" x2="485.58" y2="571.6" stroke="#1a1a1a" stroke-width="1.2" stroke-linecap="butt"/>
<line x1="496.71" y1="566.6" x2="496.71" y2="571.6" stroke="#1a1a1a" stroke-width="1.2" stroke-linecap="butt"/>
<line x1="507.84" y1="566.6" x2="507.84" y2="571.6" stroke="#1a1a1a" stroke-width="1.2" stroke-linecap="butt"/>
<line x1="518.96" y1="566.6" x2="518.96" y2="571.6" stroke="#1a1a1a" stroke-width="1.2" stroke-linecap="butt"/>
<line x1="530.09" y1="566.6" x2="530.09" y2="571.6" stroke="#1a1a1a" stroke-width="1.2" stroke-linecap="butt"/>
<line x1="541.22" y1="566.6" x2="541.22" y2="571.6" stroke="#1a1a1a" stroke-width="1.2" stroke-linecap="butt"/>
<line x1="552.35" y1="566.6" x2="552.35" y2="571.6" stroke="#1a1a1a" stroke-width="1.2" stroke-linecap="butt"/>
<line x1="563.48" y1="566.6" x2="563.48" y2="571.6" stroke="#1a1a1a" stroke-width="1.2" stroke-linecap="butt"/>
<line x1="574.6" y1="566.6" x2="574.6" y2="571.6" stroke="#1a1a1a" stroke-width="1.2" stroke-linecap="butt"/>
<line x1="585.73" y1="566.6" x2="585.73" y2="571.6" stroke="#1a1a1a" stroke-width="1.2" stroke-linecap="butt"/>
<line x1="596.86" y1="566.6" x2="596.86" y2="571.6" stroke="#1a1a1a" stroke-width="1.2" stroke-linecap="butt"/>
<line x1="607.99" y1="566.6" x2="607.99" y2="571.6" stroke="#1a1a1a" stroke-width="1.2" stroke-linecap="butt"/>
<line x1="619.12" y1="566.6" x2="619.12" y2="571.6" stroke="#1a1a1a" stroke-width="1.2" stroke-linecap="butt"/>
<line x1="630.24" y1="566.6" x2="630.24" y2="571.6" stroke="#1a1a1a" stroke-width="1.2" stroke-linecap="butt"/>
<line x1="641.37" y1="566.6" x2="641.37" y2="571.6" stroke="#1a1a1a" stroke-width="1.2" stroke-linecap="butt"/>
<line x1="652.5" y1="566.6" x2="652.5" y2="571.6" stroke="#1a1a1a" stroke-width="1.2" stroke-linecap="butt"/>
<rect x="374.3" y="321.4" width="278.2" height="245.2" fill="none" stroke="#1a1a1a" stroke-width="1.3"/>
<text x="359" y="326.4" font-size="18" text-anchor="end" fill="#1a1a1a">100</text>
<text x="359" y="375.44" font-size="18" text-anchor="end" fill="#1a1a1a">10</text>
<text x="359" y="424.48" font-size="18" text-anchor="end" fill="#1a1a1a">1</text>
<text x="359" y="473.52" font-size="18" text-anchor="end" fill="#1a1a1a">0.1</text>
<text x="359" y="522.56" font-size="18" text-anchor="end" fill="#1a1a1a">0.01</text>
<text x="359" y="571.6" font-size="18" text-anchor="end" fill="#1a1a1a">0.001</text>
<text x="667" y="571.6" font-size="18" text-anchor="start" fill="#1a1a1a">-250</text>
<text x="667" y="547.08" font-size="18" text-anchor="start" fill="#1a1a1a">-200</text>
<text x="667" y="522.56" font-size="18" text-anchor="start" fill="#1a1a1a">-150</text>
<text x="667" y="498.04" font-size="18" text-anchor="start" fill="#1a1a1a">-100</text>
<text x="667" y="473.52" font-size="18" text-anchor="start" fill="#1a1a1a">-50</text>
<text x="667" y="449" font-size="18" text-anchor="start" fill="#1a1a1a">0</text>
<text x="667" y="424.48" font-size="18" text-anchor="start" fill="#1a1a1a">50</text>
<text x="667" y="399.96" font-size="18" text-anchor="start" fill="#1a1a1a">100</text>
<text x="667" y="375.44" font-size="18" text-anchor="start" fill="#1a1a1a">150</text>
<text x="667" y="350.92" font-size="18" text-anchor="start" fill="#1a1a1a">200</text>
<text x="667" y="326.4" font-size="18" text-anchor="start" fill="#1a1a1a">250</text>
<text x="374.3" y="593.5" font-size="18" text-anchor="middle" fill="#1a1a1a">-10</text>
<text x="429.94" y="593.5" font-size="18" text-anchor="middle" fill="#1a1a1a">-8</text>
<text x="485.58" y="593.5" font-size="18" text-anchor="middle" fill="#1a1a1a">-6</text>
<text x="541.22" y="593.5" font-size="18" text-anchor="middle" fill="#1a1a1a">-4</text>
<text x="596.86" y="593.5" font-size="18" text-anchor="middle" fill="#1a1a1a">-2</text>
<text x="652.5" y="593.5" font-size="18" text-anchor="middle" fill="#1a1a1a">0</text>
<text x="525.8" y="616.9" font-size="17.2" text-anchor="middle" fill="#1a1a1a">Time (fs)</text>
<text x="325" y="440.7" font-size="17.2" text-anchor="middle" fill="#1a1a1a" transform="rotate(-90 325 440.7)">r (nm)</text>
<text x="715" y="445.6" font-size="17.2" text-anchor="middle" fill="#1a1a1a" transform="rotate(-90 715 445.6)">E (V/nm)</text>
<text x="382.5" y="353.5" font-size="23.6" text-anchor="start" fill="#1a1a1a">(e)</text>
<path d="M428.6,465 C429.4,461.17 431.65,450.95 433.4,442 C435.15,433.05 437.18,419.72 439.1,411.3 C441.02,402.88 443.37,396.32 444.9,391.5 C446.43,386.68 446.98,384.88 448.3,382.4 C449.62,379.92 450.98,378.47 452.8,376.6 C454.62,374.73 457.5,372.43 459.2,371.2 C460.9,369.97 461.2,369.53 463,369.2 C464.8,368.87 468.18,368.82 470,369.2 C471.82,369.58 472.52,370.58 473.9,371.5 C475.28,372.42 476.7,373.1 478.3,374.7 C479.9,376.3 482,378.97 483.5,381.1 C485,383.23 486.17,384.85 487.3,387.5 C488.43,390.15 489.4,393.25 490.3,397 C491.2,400.75 491.65,402.72 492.7,410 C493.75,417.28 495.95,435.58 496.6,440.7 C497.15,437.77 498.68,427.5 499.9,423.1 C501.12,418.7 502.43,414.57 503.9,414.3 C505.37,414.03 507.37,416.43 508.7,421.5 C510.03,426.57 511.37,440.83 511.9,444.7 C512.43,440.57 513.77,428.02 515.1,419.9 C516.43,411.78 517.9,402.65 519.9,396 C521.9,389.35 523.62,384.5 527.1,380 C530.58,375.5 536.65,369.25 540.8,369 C544.95,368.75 548.82,374.52 552,378.5 C555.18,382.48 557.78,387.3 559.9,392.9 C562.02,398.5 563.52,404.63 564.7,412.1 C565.88,419.57 566.62,433.43 567,437.7" fill="none" stroke="#0066cc" stroke-width="2.2" stroke-linejoin="round" stroke-linecap="butt"/>
<path d="M567,437.7 L567.1,529.6 L567.3,437.7 C567.68,434.2 568.68,422.33 569.6,416.7 C570.52,411.07 571.42,407.73 572.8,403.9 C574.18,400.07 575.77,396.57 577.9,393.7 C580.03,390.83 583.05,389.25 585.6,386.7 C588.15,384.15 591.07,381.07 593.2,378.4 C595.33,375.73 596.47,373.05 598.4,370.7 C600.33,368.35 602.67,366.12 604.8,364.3 C606.93,362.48 609.08,360.87 611.2,359.8 C613.32,358.73 614.63,358.22 617.5,357.9 C620.37,357.58 626.58,357.9 628.4,357.9" fill="none" stroke="#0066cc" stroke-width="2.4" stroke-linejoin="round" stroke-linecap="butt"/>
<path d="M428.6,465 C429.4,461.17 431.65,450.95 433.4,442 C435.15,433.05 437.18,419.72 439.1,411.3 C441.02,402.88 443.37,396.32 444.9,391.5 C446.43,386.68 446.98,384.88 448.3,382.4 C449.62,379.92 450.98,378.47 452.8,376.6 C454.62,374.73 457.5,372.43 459.2,371.2 C460.9,369.97 461.2,369.53 463,369.2 C464.8,368.87 468.18,368.82 470,369.2 C471.82,369.58 472.52,370.58 473.9,371.5 C475.28,372.42 476.7,373.1 478.3,374.7 C479.9,376.3 482,378.97 483.5,381.1 C485,383.23 486.17,384.85 487.3,387.5 C488.43,390.15 489.4,393.25 490.3,397 C491.2,400.75 491.65,402.72 492.7,410 C493.75,417.28 495.95,435.58 496.6,440.7 C497.15,438.43 498.68,430.58 499.9,427.1 C501.12,423.62 502.43,419.98 503.9,419.8 C505.37,419.62 507.37,421.85 508.7,426 C510.03,430.15 511.37,441.58 511.9,444.7 C512.43,440.57 513.77,428.02 515.1,419.9 C516.43,411.78 517.9,402.65 519.9,396 C521.9,389.35 523.62,384.5 527.1,380 C530.58,375.5 536.65,369.25 540.8,369 C544.95,368.75 548.82,374.52 552,378.5 C555.18,382.48 557.78,387.3 559.9,392.9 C562.02,398.5 563.52,404.63 564.7,412.1 C565.88,419.57 566.62,433.43 567,437.7" fill="none" stroke="#4f81bd" stroke-width="3.4" stroke-linejoin="round" stroke-linecap="butt" stroke-dasharray="6 1.8"/>
<path d="M567,437.7 L568,490 C568.25,480 568.48,443.7 569.5,430 C570.52,416.3 572.07,410.65 574.1,407.8 C576.13,404.95 579.63,407.53 581.7,412.9 C583.77,418.27 585.7,435.48 586.5,440 L587.2,534.8 L588,440 C588.98,433.13 592.17,407.8 593.9,398.8 C595.63,389.8 596.58,389.4 598.4,386 C600.22,382.6 602.67,380.63 604.8,378.4 C606.93,376.17 609.08,373.82 611.2,372.6 C613.32,371.38 615.17,371.35 617.5,371.1 C619.83,370.85 623.92,371.1 625.2,371.1" fill="none" stroke="#4f81bd" stroke-width="3.1" stroke-linejoin="round" stroke-linecap="butt" stroke-dasharray="4.8 2.6"/>
<path d="M391.2,465 C391.85,463.07 393.82,459.8 395.1,453.4 C396.38,447 397.3,435.22 398.9,426.6 C400.5,417.98 402.47,409.03 404.7,401.7 C406.93,394.37 409.75,387.07 412.3,382.6 C414.85,378.13 417.12,376.82 420,374.9 C422.88,372.98 426.42,370.93 429.6,371.1 C432.78,371.27 436.23,373.67 439.1,375.9 C441.97,378.13 444.72,380.2 446.8,384.5 C448.88,388.8 450.32,395.95 451.6,401.7 C452.88,407.45 453.63,412.13 454.5,419 C455.37,425.87 456.42,438.92 456.8,442.9 C457.33,438.53 458.8,422.92 460,416.7 C461.2,410.48 462.67,407.98 464,405.6 C465.33,403.22 466.67,402.13 468,402.4 C469.33,402.67 470.68,404.02 472,407.2 C473.32,410.38 474.98,414.85 475.9,421.5 C476.82,428.15 477.23,442.83 477.5,447.1 C477.9,441.25 478.7,420.52 479.9,412 C481.1,403.48 482.83,401.33 484.7,396 C486.57,390.67 487.95,383.83 491.1,380 C494.25,376.17 499.6,373 503.6,373 C507.6,373 512.12,376.17 515.1,380 C518.08,383.83 519.77,389.35 521.5,396 C523.23,402.65 524.53,411.73 525.5,419.9 C526.47,428.07 527,440.82 527.3,445" fill="none" stroke="#9bbb59" stroke-width="2.2" stroke-linejoin="round" stroke-linecap="butt"/>
<path d="M526.6,445 L526.2,532.8 L526.8,445 C527.53,438.45 529.67,414.12 531.2,405.7 C532.73,397.28 533.87,397.43 536,394.5 C538.13,391.57 541.33,390.23 544,388.1 C546.67,385.97 549.35,384.62 552,381.7 C554.65,378.78 557.28,373.93 559.9,370.6 C562.52,367.27 564.48,364.03 567.7,361.7 C570.92,359.37 574.08,357.48 579.2,356.6 C584.32,355.72 592.65,356.5 598.4,356.4 C604.15,356.3 611.15,356.07 613.7,356" fill="none" stroke="#9bbb59" stroke-width="2.0" stroke-linejoin="round" stroke-linecap="butt"/>
<path d="M391.2,465 C391.85,463.07 393.82,459.8 395.1,453.4 C396.38,447 397.3,435.22 398.9,426.6 C400.5,417.98 402.47,409.03 404.7,401.7 C406.93,394.37 409.75,387.07 412.3,382.6 C414.85,378.13 417.12,376.82 420,374.9 C422.88,372.98 426.42,370.93 429.6,371.1 C432.78,371.27 436.23,373.67 439.1,375.9 C441.97,378.13 444.72,380.2 446.8,384.5 C448.88,388.8 450.32,395.95 451.6,401.7 C452.88,407.45 453.63,412.13 454.5,419 C455.37,425.87 456.42,438.92 456.8,442.9 C457.33,439.12 458.8,425.58 460,420.2 C461.2,414.82 462.67,412.65 464,410.6 C465.33,408.55 466.67,407.63 468,407.9 C469.33,408.17 470.68,409.35 472,412.2 C473.32,415.05 474.98,419.18 475.9,425 C476.82,430.82 477.23,443.42 477.5,447.1 C477.9,441.25 478.7,420.52 479.9,412 C481.1,403.48 482.83,401.33 484.7,396 C486.57,390.67 487.95,383.83 491.1,380 C494.25,376.17 499.6,373 503.6,373 C507.6,373 512.12,376.17 515.1,380 C518.08,383.83 519.77,389.35 521.5,396 C523.23,402.65 524.53,411.73 525.5,419.9 C526.47,428.07 527,440.82 527.3,445" fill="none" stroke="#9bbb59" stroke-width="3.4" stroke-linejoin="round" stroke-linecap="butt" stroke-dasharray="6 1.8"/>
<path d="M527.3,445 L528,469 C528.8,457.12 530.93,410.38 532.8,397.7 C534.67,385.02 537.07,392.9 539.2,392.9 C541.33,392.9 543.6,394.5 545.6,397.7 C547.6,400.9 549.75,405.97 551.2,412.1 C552.65,418.23 553.78,430.77 554.3,434.5 L554.4,528.6 L554.6,434.5 C555.22,432.9 556.97,432.33 558.3,424.9 C559.63,417.47 561.03,397.02 562.6,389.9 C564.17,382.78 565.58,384.33 567.7,382.2 C569.82,380.07 572.97,377.73 575.3,377.1 C577.63,376.47 579.77,377.55 581.7,378.4 C583.63,379.25 585.4,380.5 586.9,382.2 C588.4,383.9 590.07,387.53 590.7,388.6" fill="none" stroke="#9bbb59" stroke-width="3.1" stroke-linejoin="round" stroke-linecap="butt" stroke-dasharray="4.8 2.6"/>
<path d="M392.38,518.49 L392.94,518.54 L393.49,518.46 L394.05,518.27 L394.6,517.91 L395.15,517.39 L395.71,516.71 L396.26,515.86 L396.82,514.85 L397.37,513.69 L397.93,512.37 L398.48,510.89 L399.03,509.27 L399.59,507.49 L400.14,505.57 L400.7,503.51 L401.25,501.32 L401.81,498.99 L402.36,496.54 L402.91,493.96 L403.47,491.27 L404.02,488.47 L404.58,485.56 L405.13,482.55 L405.69,479.45 L406.24,476.27 L406.8,473 L407.35,469.67 L407.9,466.27 L408.46,462.81 L409.01,459.3 L409.57,455.75 L410.12,452.16 L410.68,448.55 L411.23,444.92 L411.78,441.28 L412.34,437.64 L412.89,434 L413.45,430.37 L414,426.77 L414.56,423.2 L415.11,419.66 L415.66,416.17 L416.22,412.73 L416.77,409.35 L417.33,406.04 L417.88,402.8 L418.44,399.65 L418.99,396.59 L419.54,393.62 L420.1,390.76 L420.65,388.01 L421.21,385.38 L421.76,382.87 L422.32,380.49 L422.87,378.24 L423.42,376.13 L423.98,374.17 L424.53,372.36 L425.09,370.7 L425.64,369.19 L426.2,367.85 L426.75,366.68 L427.3,365.67 L427.86,364.83 L428.41,364.16 L428.97,363.67 L429.52,363.35 L430.08,363.22 L430.63,363.3 L431.18,363.55 L431.74,363.98 L432.29,364.59 L432.85,365.37 L433.4,366.33 L433.96,367.46 L434.51,368.75 L435.06,370.22 L435.62,371.85 L436.17,373.64 L436.73,375.59 L437.28,377.7 L437.84,379.95 L438.39,382.34 L438.94,384.88 L439.5,387.55 L440.05,390.34 L440.61,393.26 L441.16,396.29 L441.72,399.44 L442.27,402.68 L442.83,406.02 L443.38,409.45 L443.93,412.96 L444.49,416.55 L445.04,420.2 L445.6,423.9 L446.15,427.66 L446.71,431.45 L447.26,435.28 L447.81,439.14 L448.37,443.01 L448.92,446.89 L449.48,450.76 L450.03,454.63 L450.59,458.48 L451.14,462.3 L451.69,466.09 L452.25,469.84 L452.8,473.53 L453.36,477.16 L453.91,480.73 L454.47,484.21 L455.02,487.62 L455.57,490.93 L456.13,494.15 L456.68,497.26 L457.24,500.25 L457.79,503.13 L458.35,505.88 L458.9,508.5 L459.45,510.98 L460.01,513.32 L460.56,515.5 L461.12,517.53 L461.67,519.41 L462.23,521.12 L462.78,522.66 L463.33,524.03 L463.89,525.23 L464.44,526.25 L465,527.09 L465.55,527.75 L466.11,528.22 L466.66,528.51 L467.21,528.62 L467.77,528.55 L468.32,528.29 L468.88,527.85 L469.43,527.22 L469.99,526.4 L470.54,525.4 L471.09,524.23 L471.65,522.87 L472.2,521.34 L472.76,519.64 L473.31,517.76 L473.87,515.72 L474.42,513.53 L474.97,511.17 L475.53,508.66 L476.08,506.01 L476.64,503.21 L477.19,500.29 L477.75,497.23 L478.3,494.05 L478.86,490.76 L479.41,487.35 L479.96,483.85 L480.52,480.26 L481.07,476.58 L481.63,472.82 L482.18,468.99 L482.74,465.1 L483.29,461.16 L483.84,457.18 L484.4,453.16 L484.95,449.11 L485.51,445.05 L486.06,440.98 L486.62,436.91 L487.17,432.84 L487.72,428.8 L488.28,424.78 L488.83,420.8 L489.39,416.87 L489.94,412.99 L490.5,409.17 L491.05,405.42 L491.6,401.75 L492.16,398.17 L492.71,394.69 L493.27,391.31 L493.82,388.03 L494.38,384.88 L494.93,381.85 L495.48,378.96 L496.04,376.2 L496.59,373.59 L497.15,371.13 L497.7,368.83 L498.26,366.68 L498.81,364.71 L499.36,362.91 L499.92,361.28 L500.47,359.83 L501.03,358.57 L501.58,357.49 L502.14,356.6 L502.69,355.9 L503.24,355.39 L503.8,355.09 L504.35,355 L504.91,355.11 L505.46,355.41 L506.02,355.91 L506.57,356.6 L507.12,357.49 L507.68,358.57 L508.23,359.83 L508.79,361.28 L509.34,362.92 L509.9,364.73 L510.45,366.72 L511,368.88 L511.56,371.21 L512.11,373.7 L512.67,376.35 L513.22,379.15 L513.78,382.09 L514.33,385.18 L514.89,388.39 L515.44,391.73 L515.99,395.19 L516.55,398.75 L517.1,402.42 L517.66,406.19 L518.21,410.04 L518.77,413.96 L519.32,417.96 L519.87,422.02 L520.43,426.13 L520.98,430.28 L521.54,434.47 L522.09,438.68 L522.65,442.9 L523.2,447.13 L523.75,451.36 L524.31,455.58 L524.86,459.77 L525.42,463.93 L525.97,468.05 L526.53,472.13 L527.08,476.14 L527.63,480.09 L528.19,483.96 L528.74,487.74 L529.3,491.43 L529.85,495.02 L530.41,498.51 L530.96,501.87 L531.51,505.11 L532.07,508.22 L532.62,511.19 L533.18,514.01 L533.73,516.69 L534.29,519.2 L534.84,521.55 L535.39,523.74 L535.95,525.75 L536.5,527.58 L537.06,529.23 L537.61,530.69 L538.17,531.96 L538.72,533.04 L539.27,533.93 L539.83,534.62 L540.38,535.11 L540.94,535.4 L541.49,535.49 L542.05,535.38 L542.6,535.06 L543.15,534.55 L543.71,533.86 L544.26,532.97 L544.82,531.89 L545.37,530.61 L545.93,529.14 L546.48,527.48 L547.04,525.63 L547.59,523.6 L548.14,521.4 L548.7,519.02 L549.25,516.47 L549.81,513.76 L550.36,510.89 L550.92,507.87 L551.47,504.71 L552.02,501.41 L552.58,497.97 L553.13,494.42 L553.69,490.75 L554.24,486.97 L554.8,483.09 L555.35,479.12 L555.9,475.07 L556.46,470.94 L557.01,466.75 L557.57,462.5 L558.12,458.21 L558.68,453.88 L559.23,449.52 L559.78,445.15 L560.34,440.76 L560.89,436.38 L561.45,432.01 L562,427.66 L562.56,423.34 L563.11,419.05 L563.66,414.82 L564.22,410.65 L564.77,406.54 L565.33,402.52 L565.88,398.57 L566.44,394.73 L566.99,390.98 L567.54,387.35 L568.1,383.84 L568.65,380.45 L569.21,377.2 L569.76,374.1 L570.32,371.14 L570.87,368.34 L571.42,365.7 L571.98,363.23 L572.53,360.94 L573.09,358.82 L573.64,356.89 L574.2,355.15 L574.75,353.61 L575.3,352.25 L575.86,351.1 L576.41,350.16 L576.97,349.41 L577.52,348.89 L578.08,348.63 L578.63,348.57 L579.18,348.72 L579.74,349.08 L580.29,349.65 L580.85,350.43 L581.4,351.41 L581.96,352.6 L582.51,353.98 L583.07,355.57 L583.62,357.35 L584.17,359.32 L584.73,361.48 L585.28,363.81 L585.84,366.33 L586.39,369.02 L586.95,371.87 L587.5,374.88 L588.05,378.04 L588.61,381.34 L589.16,384.79 L589.72,388.36 L590.27,392.06 L590.83,395.87 L591.38,399.79 L591.93,403.81 L592.49,407.91 L593.04,412.09 L593.6,416.35 L594.15,420.66 L594.71,425.03 L595.26,429.44 L595.81,433.88 L596.37,438.34 L596.92,442.82 L597.48,447.3 L598.03,451.77 L598.59,456.23 L599.14,460.66 L599.69,465.05 L600.25,469.4 L600.8,473.69 L601.36,477.91 L601.91,482.07 L602.47,486.13 L603.02,490.11 L603.57,493.98 L604.13,497.75 L604.68,501.4 L605.24,504.92 L605.79,508.31 L606.35,511.55 L606.9,514.65 L607.45,517.6 L608.01,520.38 L608.56,522.99 L609.12,525.43 L609.67,527.69 L610.23,529.77 L610.78,531.66 L611.33,533.36 L611.89,534.86 L612.44,536.16 L613,537.25 L613.55,538.14" fill="none" stroke="#9b2464" stroke-width="2.2" stroke-linejoin="round" stroke-linecap="butt" stroke-dasharray="4.6 3"/>
<line x1="802" y1="356.9" x2="1018.4" y2="356.9" stroke="#8a8a8a" stroke-width="1.2" stroke-dasharray="4.4 3.1" stroke-linecap="butt"/>
<line x1="802" y1="465.5" x2="1018.4" y2="465.5" stroke="#8a8a8a" stroke-width="1.2" stroke-dasharray="4.4 3.1" stroke-linecap="butt"/>
<line x1="797" y1="574.1" x2="802" y2="574.1" stroke="#1a1a1a" stroke-width="1.2" stroke-linecap="butt"/>
<line x1="797" y1="541.41" x2="802" y2="541.41" stroke="#1a1a1a" stroke-width="1.2" stroke-linecap="butt"/>
<line x1="797" y1="522.28" x2="802" y2="522.28" stroke="#1a1a1a" stroke-width="1.2" stroke-linecap="butt"/>
<line x1="797" y1="508.72" x2="802" y2="508.72" stroke="#1a1a1a" stroke-width="1.2" stroke-linecap="butt"/>
<line x1="797" y1="498.19" x2="802" y2="498.19" stroke="#1a1a1a" stroke-width="1.2" stroke-linecap="butt"/>
<line x1="797" y1="489.59" x2="802" y2="489.59" stroke="#1a1a1a" stroke-width="1.2" stroke-linecap="butt"/>
<line x1="797" y1="482.32" x2="802" y2="482.32" stroke="#1a1a1a" stroke-width="1.2" stroke-linecap="butt"/>
<line x1="797" y1="476.02" x2="802" y2="476.02" stroke="#1a1a1a" stroke-width="1.2" stroke-linecap="butt"/>
<line x1="797" y1="470.47" x2="802" y2="470.47" stroke="#1a1a1a" stroke-width="1.2" stroke-linecap="butt"/>
<line x1="797" y1="465.5" x2="802" y2="465.5" stroke="#1a1a1a" stroke-width="1.2" stroke-linecap="butt"/>
<line x1="797" y1="432.81" x2="802" y2="432.81" stroke="#1a1a1a" stroke-width="1.2" stroke-linecap="butt"/>
<line x1="797" y1="413.68" x2="802" y2="413.68" stroke="#1a1a1a" stroke-width="1.2" stroke-linecap="butt"/>
<line x1="797" y1="400.12" x2="802" y2="400.12" stroke="#1a1a1a" stroke-width="1.2" stroke-linecap="butt"/>
<line x1="797" y1="389.59" x2="802" y2="389.59" stroke="#1a1a1a" stroke-width="1.2" stroke-linecap="butt"/>
<line x1="797" y1="380.99" x2="802" y2="380.99" stroke="#1a1a1a" stroke-width="1.2" stroke-linecap="butt"/>
<line x1="797" y1="373.72" x2="802" y2="373.72" stroke="#1a1a1a" stroke-width="1.2" stroke-linecap="butt"/>
<line x1="797" y1="367.42" x2="802" y2="367.42" stroke="#1a1a1a" stroke-width="1.2" stroke-linecap="butt"/>
<line x1="797" y1="361.87" x2="802" y2="361.87" stroke="#1a1a1a" stroke-width="1.2" stroke-linecap="butt"/>
<line x1="797" y1="356.9" x2="802" y2="356.9" stroke="#1a1a1a" stroke-width="1.2" stroke-linecap="butt"/>
<line x1="797" y1="324.21" x2="802" y2="324.21" stroke="#1a1a1a" stroke-width="1.2" stroke-linecap="butt"/>
<line x1="802" y1="574.1" x2="802" y2="579.1" stroke="#1a1a1a" stroke-width="1.2" stroke-linecap="butt"/>
<line x1="888.56" y1="574.1" x2="888.56" y2="579.1" stroke="#1a1a1a" stroke-width="1.2" stroke-linecap="butt"/>
<line x1="975.12" y1="574.1" x2="975.12" y2="579.1" stroke="#1a1a1a" stroke-width="1.2" stroke-linecap="butt"/>
<line x1="845.28" y1="574.1" x2="845.28" y2="579.1" stroke="#1a1a1a" stroke-width="1.2" stroke-linecap="butt"/>
<line x1="858.31" y1="574.1" x2="858.31" y2="579.1" stroke="#1a1a1a" stroke-width="1.2" stroke-linecap="butt"/>
<line x1="865.93" y1="574.1" x2="865.93" y2="579.1" stroke="#1a1a1a" stroke-width="1.2" stroke-linecap="butt"/>
<line x1="871.34" y1="574.1" x2="871.34" y2="579.1" stroke="#1a1a1a" stroke-width="1.2" stroke-linecap="butt"/>
<line x1="875.53" y1="574.1" x2="875.53" y2="579.1" stroke="#1a1a1a" stroke-width="1.2" stroke-linecap="butt"/>
<line x1="878.96" y1="574.1" x2="878.96" y2="579.1" stroke="#1a1a1a" stroke-width="1.2" stroke-linecap="butt"/>
<line x1="881.86" y1="574.1" x2="881.86" y2="579.1" stroke="#1a1a1a" stroke-width="1.2" stroke-linecap="butt"/>
<line x1="884.37" y1="574.1" x2="884.37" y2="579.1" stroke="#1a1a1a" stroke-width="1.2" stroke-linecap="butt"/>
<line x1="886.58" y1="574.1" x2="886.58" y2="579.1" stroke="#1a1a1a" stroke-width="1.2" stroke-linecap="butt"/>
<line x1="931.84" y1="574.1" x2="931.84" y2="579.1" stroke="#1a1a1a" stroke-width="1.2" stroke-linecap="butt"/>
<line x1="944.87" y1="574.1" x2="944.87" y2="579.1" stroke="#1a1a1a" stroke-width="1.2" stroke-linecap="butt"/>
<line x1="952.49" y1="574.1" x2="952.49" y2="579.1" stroke="#1a1a1a" stroke-width="1.2" stroke-linecap="butt"/>
<line x1="957.9" y1="574.1" x2="957.9" y2="579.1" stroke="#1a1a1a" stroke-width="1.2" stroke-linecap="butt"/>
<line x1="962.09" y1="574.1" x2="962.09" y2="579.1" stroke="#1a1a1a" stroke-width="1.2" stroke-linecap="butt"/>
<line x1="965.52" y1="574.1" x2="965.52" y2="579.1" stroke="#1a1a1a" stroke-width="1.2" stroke-linecap="butt"/>
<line x1="968.42" y1="574.1" x2="968.42" y2="579.1" stroke="#1a1a1a" stroke-width="1.2" stroke-linecap="butt"/>
<line x1="970.93" y1="574.1" x2="970.93" y2="579.1" stroke="#1a1a1a" stroke-width="1.2" stroke-linecap="butt"/>
<line x1="973.14" y1="574.1" x2="973.14" y2="579.1" stroke="#1a1a1a" stroke-width="1.2" stroke-linecap="butt"/>
<line x1="1018.4" y1="574.1" x2="1018.4" y2="579.1" stroke="#1a1a1a" stroke-width="1.2" stroke-linecap="butt"/>
<rect x="802" y="323.8" width="216.4" height="250.3" fill="none" stroke="#1a1a1a" stroke-width="1.3"/>
<text x="787.5" y="361.9" font-size="18" text-anchor="end" fill="#1a1a1a">1000</text>
<text x="787.5" y="470.5" font-size="18" text-anchor="end" fill="#1a1a1a">100</text>
<text x="787.5" y="579.1" font-size="18" text-anchor="end" fill="#1a1a1a">10</text>
<text x="802" y="599.5" font-size="18" text-anchor="middle" fill="#1a1a1a">0.001</text>
<text x="888.56" y="599.5" font-size="18" text-anchor="middle" fill="#1a1a1a">0.1</text>
<text x="975.12" y="599.5" font-size="18" text-anchor="middle" fill="#1a1a1a">10</text>
<text x="893" y="618" font-size="17.2" text-anchor="middle" fill="#1a1a1a">r (nm)</text>
<text x="749.5" y="455" font-size="17.2" text-anchor="middle" fill="#1a1a1a" transform="rotate(-90 749.5 455)">W<tspan font-size="12" dy="3.5">rec</tspan><tspan dy="-3.5"> (eV)</tspan></text>
<text x="807.5" y="345.5" font-size="23.6" text-anchor="start" fill="#1a1a1a">(f)</text>
<line x1="834.7" y1="369.6" x2="888.4" y2="574" stroke="#ffc000" stroke-width="2.4" stroke-linecap="butt"/>
<text x="0" y="0" font-size="14.3" text-anchor="start" fill="#f79646" transform="translate(845.5,475.5) rotate(75)">resonance</text>
<path d="M893.2,558 C896.17,549.83 905.47,524.33 911,509 C916.53,493.67 922.37,477.18 926.4,466 C930.43,454.82 932.53,449.03 935.2,441.9 C937.87,434.77 940,428.72 942.4,423.2 C944.8,417.68 946.97,413.35 949.6,408.8 C952.23,404.25 955.8,399.25 958.2,395.9 C960.6,392.55 962.37,391.02 964,388.7 C965.63,386.38 967.33,383.12 968,382" fill="none" stroke="#0066cc" stroke-width="2.3" stroke-linejoin="round" stroke-linecap="butt"/>
<path d="M834.7,400.3 C837.58,398.8 845.93,392.48 852,391.3 C858.07,390.12 865.35,392.77 871.1,393.2 C876.85,393.63 881.82,393.6 886.5,393.9 C891.18,394.2 894.75,394.82 899.2,395 C903.65,395.18 908.95,395.63 913.2,395 C917.45,394.37 920.65,392.68 924.7,391.2 C928.75,389.72 933.45,387.8 937.5,386.1 C941.55,384.4 945.8,382.38 949,381 C952.2,379.62 954.7,378.22 956.7,377.8 C958.7,377.38 959.53,375.75 961,378.5 C962.47,381.25 964.08,387.38 965.5,394.3 C966.92,401.22 968.43,411.42 969.5,420 C970.57,428.58 971.07,435.2 971.9,445.8 C972.73,456.4 973.85,469.32 974.5,483.6 C975.15,497.88 975.58,523.52 975.8,531.5" fill="none" stroke="#0066cc" stroke-width="2.3" stroke-linejoin="round" stroke-linecap="butt"/>
<path d="M834.7,400.3 C836.52,401.25 841.87,405.9 845.6,406 C849.33,406.1 851.78,401.85 857.1,400.9 C862.42,399.95 870.48,400.98 877.5,400.3 C884.52,399.62 892.82,397.18 899.2,396.8 C905.58,396.42 910.67,398.13 915.8,398 C920.93,397.87 925.13,397.33 930,396 C934.87,394.67 940.67,392 945,390 C949.33,388 953.17,385.33 956,384 C958.83,382.67 961,382.33 962,382" fill="none" stroke="#0066cc" stroke-width="2.3" stroke-linejoin="round" stroke-linecap="butt"/>
<path d="M949.6,388.7 C947.68,390.62 942.42,396.37 938.1,400.2 C933.78,404.03 927.63,408.48 923.7,411.7 C919.77,414.92 916.73,417.37 914.5,419.5 C912.27,421.63 910.92,423 910.3,424.5 C909.68,426 910,426.72 910.8,428.5 C911.6,430.28 913.42,432.4 915.1,435.2 C916.78,438 918.98,441.47 920.9,445.3 C922.82,449.13 925.08,453.57 926.6,458.2 C928.12,462.83 928.75,466.37 930,473.1 C931.25,479.83 933,488.72 934.1,498.6 C935.2,508.48 936.18,526.77 936.6,532.4" fill="none" stroke="#0066cc" stroke-width="1.9" stroke-linejoin="round" stroke-linecap="butt"/>
<path d="M951,391.5 C949.1,393.37 943.82,398.95 939.6,402.7 C935.38,406.45 929.43,410.87 925.7,414 C921.97,417.13 919.23,419.58 917.2,421.5 C915.17,423.42 914.03,424.33 913.5,425.5 C912.97,426.67 913.23,426.97 914,428.5 C914.77,430.03 916.45,431.98 918.1,434.7 C919.75,437.42 922.12,441.25 923.9,444.8 C925.68,448.35 927.98,454.13 928.8,456" fill="none" stroke="#0066cc" stroke-width="1.9" stroke-linejoin="round" stroke-linecap="butt"/>
<path d="M943.2,413.4 C944.17,415.33 947.22,420.97 949,425 C950.78,429.03 953.08,435.5 953.9,437.6 C954.52,434.63 956.72,426.48 957.6,419.8 C958.48,413.12 958.47,403.3 959.2,397.5 C959.93,391.7 961.53,387.08 962,385" fill="none" stroke="#0066cc" stroke-width="2.3" stroke-linejoin="round" stroke-linecap="butt"/>
<path d="M963.5,410 C963.58,407.92 963.58,402.5 964,397.5 C964.42,392.5 965.22,384.8 966,380 C966.78,375.2 967.28,371.92 968.7,368.7 C970.12,365.48 972.63,360.7 974.5,360.7 C976.37,360.7 978.2,364.17 979.9,368.7 C981.6,373.23 983.63,381.02 984.7,387.9 C985.77,394.78 986.03,402.02 986.3,410 C986.57,417.98 986.3,431.5 986.3,435.8" fill="none" stroke="#0066cc" stroke-width="2.3" stroke-linejoin="round" stroke-linecap="butt"/>
<path d="M966,392 C966.58,395 968.42,401.17 969.5,410 C970.58,418.83 971.58,431.67 972.5,445 C973.42,458.33 974.3,475.58 975,490 C975.7,504.42 976.42,524.58 976.7,531.5" fill="none" stroke="#0066cc" stroke-width="2.3" stroke-linejoin="round" stroke-linecap="butt"/>
<path d="M890.7,565.1 C894.1,556.25 905.15,528.02 911.1,512 C917.05,495.98 922.15,480.83 926.4,469 C930.65,457.17 933.18,449.17 936.6,441 C940.02,432.83 943.77,426.32 946.9,420 C950.03,413.68 952.78,407.37 955.4,403.1 C958.02,398.83 960.5,396.92 962.6,394.4 C964.7,391.88 967.1,389.07 968,388" fill="none" stroke="#9bbb59" stroke-width="2.4" stroke-linejoin="round" stroke-linecap="butt"/>
<path d="M830.9,379.2 C832.92,380.58 838.85,384.32 843,387.5 C847.15,390.68 850.05,396.28 855.8,398.3 C861.55,400.32 869.62,399.17 877.5,399.6 C885.38,400.03 896.35,400.68 903.1,400.9 C909.85,401.12 912.17,401.98 918,400.9 C923.83,399.82 932.35,396.43 938.1,394.4 C943.85,392.37 948.42,390.03 952.5,388.7 C956.58,387.37 960.35,385.35 962.6,386.4 C964.85,387.45 964.98,389.43 966,395 C967.02,400.57 967.88,407.68 968.7,419.8 C969.52,431.92 970.22,449.08 970.9,467.7 C971.58,486.32 972.48,520.87 972.8,531.5" fill="none" stroke="#9bbb59" stroke-width="2.4" stroke-linejoin="round" stroke-linecap="butt"/>
<path d="M843,387.5 C845.55,386.85 852.55,384.57 858.3,383.6 C864.05,382.63 869.62,382.13 877.5,381.7 C885.38,381.27 896.23,381.55 905.6,381 C914.97,380.45 926.68,378.83 933.7,378.4 C940.72,377.97 943.87,378.18 947.7,378.4 C951.53,378.62 954.32,378.93 956.7,379.7 C959.08,380.47 960.27,378.98 962,383 C963.73,387.02 965.8,395 967.1,403.8 C968.4,412.6 969.1,422.5 969.8,435.8 C970.5,449.1 971.02,467.65 971.3,483.6 C971.58,499.55 971.47,523.52 971.5,531.5" fill="none" stroke="#9bbb59" stroke-width="2.4" stroke-linejoin="round" stroke-linecap="butt"/>
<path d="M960,387 C957.55,387.63 951.35,388.58 945.3,390.8 C939.25,393.02 929.25,397.93 923.7,400.3 C918.15,402.67 914.78,403.72 912,405 C909.22,406.28 907.42,407.07 907,408 C906.58,408.93 907.62,409.67 909.5,410.6 C911.38,411.53 915.12,411.83 918.3,413.6 C921.48,415.37 925.82,418.43 928.6,421.2 C931.38,423.97 933.1,426.78 935,430.2 C936.9,433.62 938.58,437.07 940,441.7 C941.42,446.33 942.5,451.62 943.5,458 C944.5,464.38 945.35,473 946,480 C946.65,487 947.05,491.27 947.4,500 C947.75,508.73 947.98,527 948.1,532.4" fill="none" stroke="#9bbb59" stroke-width="2.4" stroke-linejoin="round" stroke-linecap="butt"/>
<path d="M962,389.5 C959.38,390.13 952.3,391.13 946.3,393.3 C940.3,395.47 931.22,400.13 926,402.5 C920.78,404.87 916.83,406.67 915,407.5" fill="none" stroke="#9bbb59" stroke-width="2.4" stroke-linejoin="round" stroke-linecap="butt"/>
<path d="M912,403.5 C914.12,403.27 920.87,401.92 924.7,402.1 C928.53,402.28 931.8,402.9 935,404.6 C938.2,406.3 941.3,408.9 943.9,412.3 C946.5,415.7 948.92,420.72 950.6,425 C952.28,429.28 953.27,433.55 954,438 C954.73,442.45 954.83,449.42 955,451.7 C955.53,447.98 957.37,437.18 958.2,429.4 C959.03,421.62 959.45,411.57 960,405 C960.55,398.43 961.25,392.5 961.5,390" fill="none" stroke="#9bbb59" stroke-width="2.4" stroke-linejoin="round" stroke-linecap="butt"/>
<path d="M963.5,400 C963.67,397.5 964.08,389.67 964.5,385 C964.92,380.33 965.3,376.3 966,372 C966.7,367.7 967.28,362.4 968.7,359.2 C970.12,356 972.63,352.8 974.5,352.8 C976.37,352.8 978.2,354.95 979.9,359.2 C981.6,363.45 983.37,370.87 984.7,378.3 C986.03,385.73 987.27,391.57 987.9,403.8 C988.53,416.03 988.4,443.72 988.5,451.7" fill="none" stroke="#9bbb59" stroke-width="2.4" stroke-linejoin="round" stroke-linecap="butt"/>
<line x1="895.4" y1="409.2" x2="877.3" y2="409.2" stroke="#4f81bd" stroke-width="1.4" stroke-linecap="butt"/>
<polygon points="869.8,409.2 878.3,404.95 878.3,413.45" fill="#4f81bd"/>
<line x1="894.5" y1="513.3" x2="901.8" y2="495.92" stroke="#4f81bd" stroke-width="1.4" stroke-linecap="butt"/>
<polygon points="904.7,489 905.33,498.48 897.49,495.19" fill="#4f81bd"/>
</svg>
</body></html>
